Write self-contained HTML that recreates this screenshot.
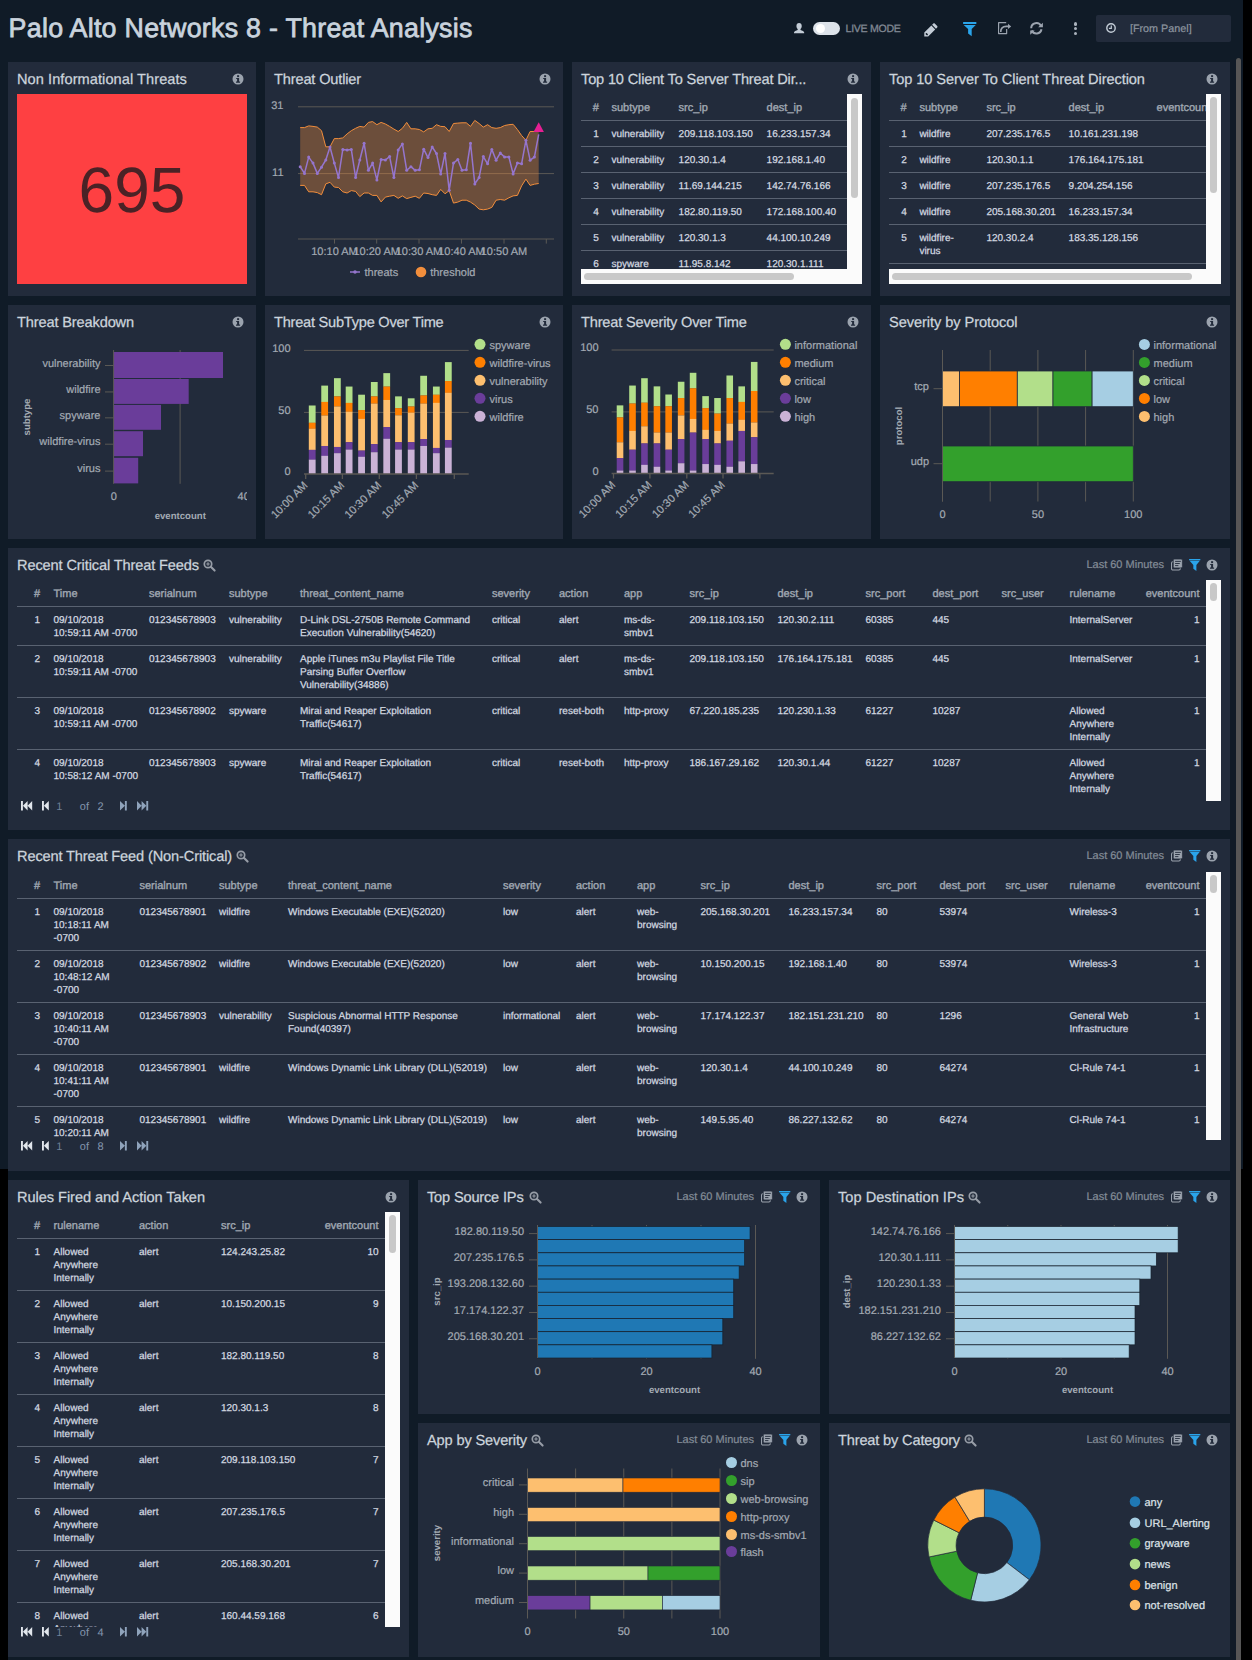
<!DOCTYPE html>
<html lang="en"><head><meta charset="utf-8"><title>Palo Alto Networks 8 - Threat Analysis</title>
<style>
*{margin:0;padding:0;box-sizing:border-box}
html,body{width:1252px;height:1660px;overflow:hidden;background:#101b27}
body{position:relative;text-rendering:geometricPrecision;font-family:"Liberation Sans",sans-serif;color:#d3d9e0}
.p{position:absolute;background:#222b3b}
.t{position:absolute;white-space:nowrap}
.ic,.ch{position:absolute;overflow:visible}
.title{font-size:14.6px;color:#cdd5dd;-webkit-text-stroke:0.25px #cdd5dd}
.h1{font-size:26.8px;letter-spacing:0.27px;color:#c9d3dd;-webkit-text-stroke:0.75px #c9d3dd}
.rng{font-size:11px;color:#838c97;-webkit-text-stroke:0.2px #838c97}
.tb{position:absolute;overflow:hidden}
.tb div{position:absolute;white-space:nowrap}
.th{font-size:11px;color:#a1a9b3;-webkit-text-stroke:0.35px #a1a9b3}
.td{font-size:10px;line-height:13px;color:#d3d9e0;-webkit-text-stroke:0.25px #d3d9e0}
.hl{left:0;right:0;height:1px;background:#596271}
.sb{position:absolute;background:#fbfbfb}
.thumb{position:absolute;background:#c8c8c8;border-radius:4px}
.pg{font-size:11px;color:#8295ad}
svg text{font-family:"Liberation Sans",sans-serif;text-rendering:geometricPrecision}
.ax{font-size:11px;fill:#a3aab3;stroke:#a3aab3;stroke-width:0.2px}
.axb{font-size:9.6px;font-weight:bold;fill:#a3aab3}
.lg{font-size:11px;fill:#a3a9b2;stroke:#a3a9b2;stroke-width:0.2px}
.lgw{font-size:11px;fill:#dfe3e8;stroke:#dfe3e8;stroke-width:0.2px}
</style></head>
<body>
<div style="left:1243px;top:0px;width:9px;height:1660px;position:absolute;background:#000"></div>
<div style="left:1241px;top:1169px;width:2px;height:491px;position:absolute;background:#000"></div>
<div style="left:0px;top:1169px;width:8px;height:491px;position:absolute;background:#000"></div>
<div style="left:1236px;top:58px;width:5.2px;height:1602px;position:absolute;background:#565656;border-radius:3px 3px 0 0"></div>
<div class="t h1" style="left:8.6px;top:18.5px;height:20px;line-height:20px;height:40px;line-height:40px;top:7.6px;">Palo Alto Networks 8 - Threat Analysis</div>
<svg class="ic" style="left:794.4px;top:22.9px" width="10.2" height="10.2" preserveAspectRatio="none" viewBox="0 0 10.8 10.2"><path d="M5.4 0C7.2 0 8.2 1.3 8.2 3c0 1.3-.5 2.4-1.3 3.1v.9c1.7.5 3.9 1.300 3.900 2.400v.8H0v-.8c0-1.100 2.200-1.900 3.900-2.400v-.9C3.100 5.400 2.600 4.300 2.600 3 2.600 1.300 3.600 0 5.400 0z" fill="#c3ccd6"/></svg>
<div style="left:812.7px;top:21.6px;width:27.4px;height:13.4px;position:absolute;background:#dde3ea;border-radius:7px"></div>
<div style="left:815.9px;top:24px;width:9px;height:9px;position:absolute;background:#fff;border-radius:5px"></div>
<div class="t" style="left:845.6px;top:19.3px;height:20px;line-height:20px;font-size:10.6px;letter-spacing:-0.3px;color:#808893;-webkit-text-stroke:0.3px #808893;">LIVE MODE</div>
<svg class="ic" style="left:923.6px;top:22.8px" width="14" height="14" viewBox="-0.5 0 14.5 14"><path d="M10.600.3l2.600 2.600c.4.4.4 1 0 1.400l-1.300 1.300-4-4L9.200.3c.4-.4 1-.4 1.400 0zM7.100 2.400l4 4-7.300 7.300H-.2v-4zM1.200 11.300l1.200 1.200 1-.1.100-1-1.200-1.200-1 .1z" fill="#c3ccd6" fill-rule="evenodd"/></svg>
<svg class="ic" style="left:962.8px;top:22px" width="13.46" height="14.15" viewBox="0 0 11.6 12.2"><path d="M0.1 0h11.4v1.8H0.1z M0.6 2.55h10.4L7.5 6.1v6.1L4.4 10V6.1z" fill="#2aa4ea"/></svg>
<svg class="ic" style="left:997.9px;top:21.9px" width="14.4" height="12.4" viewBox="0 0 14.4 12.4"><path d="M8.65 7.1V11.6H0.6V0.7H8.2" fill="none" stroke="#9ba3ae" stroke-width="1.2" stroke-linejoin="round"/><path d="M2.7 9.9C2.7 6.4 4.6 4.4 8.2 4.4H10.2" fill="none" stroke="#101b27" stroke-width="3.2"/><path d="M10 0.9L14.2 4.4 10 7.9z" fill="#101b27"/><path d="M2.7 9.9C2.7 6.4 4.6 4.4 8.2 4.4H10.2" fill="none" stroke="#9ba3ae" stroke-width="1.7"/><path d="M10 1.7L13.2 4.4 10 7.1z" fill="#9ba3ae"/></svg>
<svg class="ic" style="left:1030.3px;top:22.2px" width="13.6" height="13" viewBox="0 0 13.6 13"><path d="M1.2 6.3A5.2 5.2 0 0 1 11.1 4.1" fill="none" stroke="#9ba3ae" stroke-width="2"/><path d="M11.5 7.2A5.2 5.2 0 0 1 1.7 8.5" fill="none" stroke="#9ba3ae" stroke-width="2"/><path d="M12.9 0.7V5.3H8.1zM0.2 12.7V8.4H4.7z" fill="#9ba3ae"/></svg>
<div style="left:1073.9px;top:22.2px;width:3.4px;height:3.4px;position:absolute;background:#aab2bc;border-radius:2px"></div>
<div style="left:1073.9px;top:26.900000000000002px;width:3.4px;height:3.4px;position:absolute;background:#aab2bc;border-radius:2px"></div>
<div style="left:1073.9px;top:31.599999999999998px;width:3.4px;height:3.4px;position:absolute;background:#aab2bc;border-radius:2px"></div>
<div style="left:1096px;top:15px;width:135px;height:27px;position:absolute;background:#222b3b;border-radius:2px"></div>
<svg class="ic" style="left:1104.8px;top:22px" width="12" height="12" viewBox="0 0 12 12"><circle cx="6" cy="6" r="4.2" fill="none" stroke="#c3ccd6" stroke-width="1.4"/><path d="M6.3 3.4v2.900H3.900" fill="none" stroke="#c3ccd6" stroke-width="1.2"/></svg>
<div class="t" style="left:1129.9px;top:19px;height:20px;line-height:20px;font-size:10.8px;color:#8d959f;-webkit-text-stroke:0.2px #8d959f;">[From Panel]</div>
<div class="p" style="left:8px;top:62px;width:248px;height:234px;"></div>
<div class="p" style="left:265px;top:62px;width:298px;height:234px;"></div>
<div class="p" style="left:572px;top:62px;width:299px;height:234px;"></div>
<div class="p" style="left:880px;top:62px;width:350px;height:234px;"></div>
<div class="p" style="left:8px;top:305px;width:248px;height:234px;"></div>
<div class="p" style="left:265px;top:305px;width:298px;height:234px;"></div>
<div class="p" style="left:572px;top:305px;width:299px;height:234px;"></div>
<div class="p" style="left:880px;top:305px;width:350px;height:234px;"></div>
<div class="p" style="left:8px;top:548px;width:1222px;height:282px;"></div>
<div class="p" style="left:8px;top:839px;width:1222px;height:332px;"></div>
<div class="p" style="left:8px;top:1180px;width:401px;height:477px;"></div>
<div class="p" style="left:418px;top:1180px;width:402px;height:234px;"></div>
<div class="p" style="left:829px;top:1180px;width:401px;height:234px;"></div>
<div class="p" style="left:418px;top:1423px;width:402px;height:234px;"></div>
<div class="p" style="left:829px;top:1423px;width:401px;height:234px;"></div>
<div class="t title" style="left:17px;top:69.5px;height:20px;line-height:20px;letter-spacing:0.061px;">Non Informational Threats</div><svg class="ic" style="left:230.8px;top:71.5px" width="14" height="14" viewBox="0 0 14 14"><circle cx="7" cy="7" r="5.5" fill="#9ba3ae"/><rect x="6.1" y="3.2" width="2" height="1.9" fill="#222b3b"/><path d="M5.2 5.9h2.9v3.6h1v1.2H5v-1.2h1.1V7.1H5.2z" fill="#222b3b"/></svg>
<div class="t title" style="left:274px;top:69.5px;height:20px;line-height:20px;letter-spacing:-0.158px;">Threat Outlier</div><svg class="ic" style="left:537.8px;top:71.5px" width="14" height="14" viewBox="0 0 14 14"><circle cx="7" cy="7" r="5.5" fill="#9ba3ae"/><rect x="6.1" y="3.2" width="2" height="1.9" fill="#222b3b"/><path d="M5.2 5.9h2.9v3.6h1v1.2H5v-1.2h1.1V7.1H5.2z" fill="#222b3b"/></svg>
<div class="t title" style="left:581px;top:69.5px;height:20px;line-height:20px;letter-spacing:-0.169px;">Top 10 Client To Server Threat Dir...</div><svg class="ic" style="left:845.8px;top:71.5px" width="14" height="14" viewBox="0 0 14 14"><circle cx="7" cy="7" r="5.5" fill="#9ba3ae"/><rect x="6.1" y="3.2" width="2" height="1.9" fill="#222b3b"/><path d="M5.2 5.9h2.9v3.6h1v1.2H5v-1.2h1.1V7.1H5.2z" fill="#222b3b"/></svg>
<div class="t title" style="left:889px;top:69.5px;height:20px;line-height:20px;letter-spacing:-0.078px;">Top 10 Server To Client Threat Direction</div><svg class="ic" style="left:1204.8px;top:71.5px" width="14" height="14" viewBox="0 0 14 14"><circle cx="7" cy="7" r="5.5" fill="#9ba3ae"/><rect x="6.1" y="3.2" width="2" height="1.9" fill="#222b3b"/><path d="M5.2 5.9h2.9v3.6h1v1.2H5v-1.2h1.1V7.1H5.2z" fill="#222b3b"/></svg>
<div class="t title" style="left:17px;top:312.5px;height:20px;line-height:20px;letter-spacing:-0.141px;">Threat Breakdown</div><svg class="ic" style="left:230.8px;top:314.5px" width="14" height="14" viewBox="0 0 14 14"><circle cx="7" cy="7" r="5.5" fill="#9ba3ae"/><rect x="6.1" y="3.2" width="2" height="1.9" fill="#222b3b"/><path d="M5.2 5.9h2.9v3.6h1v1.2H5v-1.2h1.1V7.1H5.2z" fill="#222b3b"/></svg>
<div class="t title" style="left:274px;top:312.5px;height:20px;line-height:20px;letter-spacing:-0.238px;">Threat SubType Over Time</div><svg class="ic" style="left:537.8px;top:314.5px" width="14" height="14" viewBox="0 0 14 14"><circle cx="7" cy="7" r="5.5" fill="#9ba3ae"/><rect x="6.1" y="3.2" width="2" height="1.9" fill="#222b3b"/><path d="M5.2 5.9h2.9v3.6h1v1.2H5v-1.2h1.1V7.1H5.2z" fill="#222b3b"/></svg>
<div class="t title" style="left:581px;top:312.5px;height:20px;line-height:20px;letter-spacing:-0.185px;">Threat Severity Over Time</div><svg class="ic" style="left:845.8px;top:314.5px" width="14" height="14" viewBox="0 0 14 14"><circle cx="7" cy="7" r="5.5" fill="#9ba3ae"/><rect x="6.1" y="3.2" width="2" height="1.9" fill="#222b3b"/><path d="M5.2 5.9h2.9v3.6h1v1.2H5v-1.2h1.1V7.1H5.2z" fill="#222b3b"/></svg>
<div class="t title" style="left:889px;top:312.5px;height:20px;line-height:20px;letter-spacing:-0.064px;">Severity by Protocol</div><svg class="ic" style="left:1204.8px;top:314.5px" width="14" height="14" viewBox="0 0 14 14"><circle cx="7" cy="7" r="5.5" fill="#9ba3ae"/><rect x="6.1" y="3.2" width="2" height="1.9" fill="#222b3b"/><path d="M5.2 5.9h2.9v3.6h1v1.2H5v-1.2h1.1V7.1H5.2z" fill="#222b3b"/></svg>
<div class="t title" style="left:17px;top:555.5px;height:20px;line-height:20px;letter-spacing:-0.124px;">Recent Critical Threat Feeds</div><svg class="ic" style="left:201.6px;top:558.2px" width="15" height="15" viewBox="0 0 15 15"><circle cx="6" cy="6" r="3.7" fill="none" stroke="#979da7" stroke-width="1.7"/><path d="M8.8 8.8L12.6 12.6" stroke="#979da7" stroke-width="2.1" stroke-linecap="round"/><path d="M4.3 6h3.4M6 4.3v3.4" stroke="#979da7" stroke-width="1.1"/></svg><svg class="ic" style="left:1204.8px;top:557.5px" width="14" height="14" viewBox="0 0 14 14"><circle cx="7" cy="7" r="5.5" fill="#9ba3ae"/><rect x="6.1" y="3.2" width="2" height="1.9" fill="#222b3b"/><path d="M5.2 5.9h2.9v3.6h1v1.2H5v-1.2h1.1V7.1H5.2z" fill="#222b3b"/></svg><div class="t rng" style="left:1086.4px;top:555.4px;height:20px;line-height:20px;">Last 60 Minutes</div><svg class="ic" style="left:1170.7px;top:559px" width="12" height="11" viewBox="0 0 12 11"><rect x="0.55" y="2.75" width="8.7" height="8.2" rx="1.3" fill="none" stroke="#9ba3ae" stroke-width="1.05"/><rect x="2.3" y="0.1" width="9.1" height="8.8" rx="1.3" fill="#9ba3ae" stroke="#222b3b" stroke-width="0.7"/><path d="M4.1 2.4h5.7M4.1 4.5h4.7M4.1 6.6h3.3" stroke="#222b3b" stroke-width="0.9"/></svg><svg class="ic" style="left:1188.8px;top:559px" width="11.43" height="12.02" viewBox="0 0 11.6 12.2"><path d="M0.1 0h11.4v1.25H0.1z M0.6 1.8h10.4L7.5 6.1v6.1L4.4 10V6.1z" fill="#2aa4ea"/></svg>
<div class="t title" style="left:17px;top:846.5px;height:20px;line-height:20px;letter-spacing:-0.137px;">Recent Threat Feed (Non-Critical)</div><svg class="ic" style="left:234.8px;top:849.2px" width="15" height="15" viewBox="0 0 15 15"><circle cx="6" cy="6" r="3.7" fill="none" stroke="#979da7" stroke-width="1.7"/><path d="M8.8 8.8L12.6 12.6" stroke="#979da7" stroke-width="2.1" stroke-linecap="round"/><path d="M4.3 6h3.4M6 4.3v3.4" stroke="#979da7" stroke-width="1.1"/></svg><svg class="ic" style="left:1204.8px;top:848.5px" width="14" height="14" viewBox="0 0 14 14"><circle cx="7" cy="7" r="5.5" fill="#9ba3ae"/><rect x="6.1" y="3.2" width="2" height="1.9" fill="#222b3b"/><path d="M5.2 5.9h2.9v3.6h1v1.2H5v-1.2h1.1V7.1H5.2z" fill="#222b3b"/></svg><div class="t rng" style="left:1086.4px;top:846.4px;height:20px;line-height:20px;">Last 60 Minutes</div><svg class="ic" style="left:1170.7px;top:850px" width="12" height="11" viewBox="0 0 12 11"><rect x="0.55" y="2.75" width="8.7" height="8.2" rx="1.3" fill="none" stroke="#9ba3ae" stroke-width="1.05"/><rect x="2.3" y="0.1" width="9.1" height="8.8" rx="1.3" fill="#9ba3ae" stroke="#222b3b" stroke-width="0.7"/><path d="M4.1 2.4h5.7M4.1 4.5h4.7M4.1 6.6h3.3" stroke="#222b3b" stroke-width="0.9"/></svg><svg class="ic" style="left:1188.8px;top:850px" width="11.43" height="12.02" viewBox="0 0 11.6 12.2"><path d="M0.1 0h11.4v1.25H0.1z M0.6 1.8h10.4L7.5 6.1v6.1L4.4 10V6.1z" fill="#2aa4ea"/></svg>
<div class="t title" style="left:17px;top:1187.5px;height:20px;line-height:20px;letter-spacing:-0.056px;">Rules Fired and Action Taken</div><svg class="ic" style="left:383.8px;top:1189.5px" width="14" height="14" viewBox="0 0 14 14"><circle cx="7" cy="7" r="5.5" fill="#9ba3ae"/><rect x="6.1" y="3.2" width="2" height="1.9" fill="#222b3b"/><path d="M5.2 5.9h2.9v3.6h1v1.2H5v-1.2h1.1V7.1H5.2z" fill="#222b3b"/></svg>
<div class="t title" style="left:427px;top:1187.5px;height:20px;line-height:20px;letter-spacing:-0.176px;">Top Source IPs</div><svg class="ic" style="left:527.5px;top:1190.2px" width="15" height="15" viewBox="0 0 15 15"><circle cx="6" cy="6" r="3.7" fill="none" stroke="#979da7" stroke-width="1.7"/><path d="M8.8 8.8L12.6 12.6" stroke="#979da7" stroke-width="2.1" stroke-linecap="round"/><path d="M4.3 6h3.4M6 4.3v3.4" stroke="#979da7" stroke-width="1.1"/></svg><svg class="ic" style="left:794.8px;top:1189.5px" width="14" height="14" viewBox="0 0 14 14"><circle cx="7" cy="7" r="5.5" fill="#9ba3ae"/><rect x="6.1" y="3.2" width="2" height="1.9" fill="#222b3b"/><path d="M5.2 5.9h2.9v3.6h1v1.2H5v-1.2h1.1V7.1H5.2z" fill="#222b3b"/></svg><div class="t rng" style="left:676.4px;top:1187.4px;height:20px;line-height:20px;">Last 60 Minutes</div><svg class="ic" style="left:760.7px;top:1191px" width="12" height="11" viewBox="0 0 12 11"><rect x="0.55" y="2.75" width="8.7" height="8.2" rx="1.3" fill="none" stroke="#9ba3ae" stroke-width="1.05"/><rect x="2.3" y="0.1" width="9.1" height="8.8" rx="1.3" fill="#9ba3ae" stroke="#222b3b" stroke-width="0.7"/><path d="M4.1 2.4h5.7M4.1 4.5h4.7M4.1 6.6h3.3" stroke="#222b3b" stroke-width="0.9"/></svg><svg class="ic" style="left:778.8px;top:1191px" width="11.43" height="12.02" viewBox="0 0 11.6 12.2"><path d="M0.1 0h11.4v1.25H0.1z M0.6 1.8h10.4L7.5 6.1v6.1L4.4 10V6.1z" fill="#2aa4ea"/></svg>
<div class="t title" style="left:838px;top:1187.5px;height:20px;line-height:20px;letter-spacing:0.013px;">Top Destination IPs</div><svg class="ic" style="left:966.7px;top:1190.2px" width="15" height="15" viewBox="0 0 15 15"><circle cx="6" cy="6" r="3.7" fill="none" stroke="#979da7" stroke-width="1.7"/><path d="M8.8 8.8L12.6 12.6" stroke="#979da7" stroke-width="2.1" stroke-linecap="round"/><path d="M4.3 6h3.4M6 4.3v3.4" stroke="#979da7" stroke-width="1.1"/></svg><svg class="ic" style="left:1204.8px;top:1189.5px" width="14" height="14" viewBox="0 0 14 14"><circle cx="7" cy="7" r="5.5" fill="#9ba3ae"/><rect x="6.1" y="3.2" width="2" height="1.9" fill="#222b3b"/><path d="M5.2 5.9h2.9v3.6h1v1.2H5v-1.2h1.1V7.1H5.2z" fill="#222b3b"/></svg><div class="t rng" style="left:1086.4px;top:1187.4px;height:20px;line-height:20px;">Last 60 Minutes</div><svg class="ic" style="left:1170.7px;top:1191px" width="12" height="11" viewBox="0 0 12 11"><rect x="0.55" y="2.75" width="8.7" height="8.2" rx="1.3" fill="none" stroke="#9ba3ae" stroke-width="1.05"/><rect x="2.3" y="0.1" width="9.1" height="8.8" rx="1.3" fill="#9ba3ae" stroke="#222b3b" stroke-width="0.7"/><path d="M4.1 2.4h5.7M4.1 4.5h4.7M4.1 6.6h3.3" stroke="#222b3b" stroke-width="0.9"/></svg><svg class="ic" style="left:1188.8px;top:1191px" width="11.43" height="12.02" viewBox="0 0 11.6 12.2"><path d="M0.1 0h11.4v1.25H0.1z M0.6 1.8h10.4L7.5 6.1v6.1L4.4 10V6.1z" fill="#2aa4ea"/></svg>
<div class="t title" style="left:427px;top:1430.5px;height:20px;line-height:20px;letter-spacing:-0.148px;">App by Severity</div><svg class="ic" style="left:530px;top:1433.2px" width="15" height="15" viewBox="0 0 15 15"><circle cx="6" cy="6" r="3.7" fill="none" stroke="#979da7" stroke-width="1.7"/><path d="M8.8 8.8L12.6 12.6" stroke="#979da7" stroke-width="2.1" stroke-linecap="round"/><path d="M4.3 6h3.4M6 4.3v3.4" stroke="#979da7" stroke-width="1.1"/></svg><svg class="ic" style="left:794.8px;top:1432.5px" width="14" height="14" viewBox="0 0 14 14"><circle cx="7" cy="7" r="5.5" fill="#9ba3ae"/><rect x="6.1" y="3.2" width="2" height="1.9" fill="#222b3b"/><path d="M5.2 5.9h2.9v3.6h1v1.2H5v-1.2h1.1V7.1H5.2z" fill="#222b3b"/></svg><div class="t rng" style="left:676.4px;top:1430.4px;height:20px;line-height:20px;">Last 60 Minutes</div><svg class="ic" style="left:760.7px;top:1434px" width="12" height="11" viewBox="0 0 12 11"><rect x="0.55" y="2.75" width="8.7" height="8.2" rx="1.3" fill="none" stroke="#9ba3ae" stroke-width="1.05"/><rect x="2.3" y="0.1" width="9.1" height="8.8" rx="1.3" fill="#9ba3ae" stroke="#222b3b" stroke-width="0.7"/><path d="M4.1 2.4h5.7M4.1 4.5h4.7M4.1 6.6h3.3" stroke="#222b3b" stroke-width="0.9"/></svg><svg class="ic" style="left:778.8px;top:1434px" width="11.43" height="12.02" viewBox="0 0 11.6 12.2"><path d="M0.1 0h11.4v1.25H0.1z M0.6 1.8h10.4L7.5 6.1v6.1L4.4 10V6.1z" fill="#2aa4ea"/></svg>
<div class="t title" style="left:838px;top:1430.5px;height:20px;line-height:20px;letter-spacing:-0.162px;">Threat by Category</div><svg class="ic" style="left:962.7px;top:1433.2px" width="15" height="15" viewBox="0 0 15 15"><circle cx="6" cy="6" r="3.7" fill="none" stroke="#979da7" stroke-width="1.7"/><path d="M8.8 8.8L12.6 12.6" stroke="#979da7" stroke-width="2.1" stroke-linecap="round"/><path d="M4.3 6h3.4M6 4.3v3.4" stroke="#979da7" stroke-width="1.1"/></svg><svg class="ic" style="left:1204.8px;top:1432.5px" width="14" height="14" viewBox="0 0 14 14"><circle cx="7" cy="7" r="5.5" fill="#9ba3ae"/><rect x="6.1" y="3.2" width="2" height="1.9" fill="#222b3b"/><path d="M5.2 5.9h2.9v3.6h1v1.2H5v-1.2h1.1V7.1H5.2z" fill="#222b3b"/></svg><div class="t rng" style="left:1086.4px;top:1430.4px;height:20px;line-height:20px;">Last 60 Minutes</div><svg class="ic" style="left:1170.7px;top:1434px" width="12" height="11" viewBox="0 0 12 11"><rect x="0.55" y="2.75" width="8.7" height="8.2" rx="1.3" fill="none" stroke="#9ba3ae" stroke-width="1.05"/><rect x="2.3" y="0.1" width="9.1" height="8.8" rx="1.3" fill="#9ba3ae" stroke="#222b3b" stroke-width="0.7"/><path d="M4.1 2.4h5.7M4.1 4.5h4.7M4.1 6.6h3.3" stroke="#222b3b" stroke-width="0.9"/></svg><svg class="ic" style="left:1188.8px;top:1434px" width="11.43" height="12.02" viewBox="0 0 11.6 12.2"><path d="M0.1 0h11.4v1.25H0.1z M0.6 1.8h10.4L7.5 6.1v6.1L4.4 10V6.1z" fill="#2aa4ea"/></svg>
<div style="left:17px;top:94px;width:230px;height:190px;position:absolute;background:#fe4042"></div>
<div class="t" style="left:-18px;width:300px;text-align:center;top:180px;height:20px;line-height:20px;font-size:64px;color:#4a2226;height:80px;line-height:80px;top:149.6px;">695</div>
<div class="tb" style="left:581px;top:94px;width:266px;height:175px"><div class="th" style="right:248.2px;top:1px;height:26.5px;line-height:26.5px;text-align:right">#</div><div class="th" style="left:30.5px;top:1px;height:26.5px;line-height:26.5px">subtype</div><div class="th" style="left:97.6px;top:1px;height:26.5px;line-height:26.5px">src_ip</div><div class="th" style="left:185.6px;top:1px;height:26.5px;line-height:26.5px">dest_ip</div><div class="hl" style="top:26.0px"></div><div class="td" style="right:248.2px;top:33.8px;text-align:right">1</div><div class="td" style="left:30.5px;top:33.8px">vulnerability</div><div class="td" style="left:97.6px;top:33.8px">209.118.103.150</div><div class="td" style="left:185.6px;top:33.8px">16.233.157.34</div><div class="hl" style="top:52.0px"></div><div class="td" style="right:248.2px;top:59.8px;text-align:right">2</div><div class="td" style="left:30.5px;top:59.8px">vulnerability</div><div class="td" style="left:97.6px;top:59.8px">120.30.1.4</div><div class="td" style="left:185.6px;top:59.8px">192.168.1.40</div><div class="hl" style="top:78.0px"></div><div class="td" style="right:248.2px;top:85.8px;text-align:right">3</div><div class="td" style="left:30.5px;top:85.8px">vulnerability</div><div class="td" style="left:97.6px;top:85.8px">11.69.144.215</div><div class="td" style="left:185.6px;top:85.8px">142.74.76.166</div><div class="hl" style="top:104.0px"></div><div class="td" style="right:248.2px;top:111.8px;text-align:right">4</div><div class="td" style="left:30.5px;top:111.8px">vulnerability</div><div class="td" style="left:97.6px;top:111.8px">182.80.119.50</div><div class="td" style="left:185.6px;top:111.8px">172.168.100.40</div><div class="hl" style="top:130.0px"></div><div class="td" style="right:248.2px;top:137.8px;text-align:right">5</div><div class="td" style="left:30.5px;top:137.8px">vulnerability</div><div class="td" style="left:97.6px;top:137.8px">120.30.1.3</div><div class="td" style="left:185.6px;top:137.8px">44.100.10.249</div><div class="hl" style="top:156.0px"></div><div class="td" style="right:248.2px;top:163.8px;text-align:right">6</div><div class="td" style="left:30.5px;top:163.8px">spyware</div><div class="td" style="left:97.6px;top:163.8px">11.95.8.142</div><div class="td" style="left:185.6px;top:163.8px">120.30.1.111</div><div class="hl" style="top:182.0px"></div></div>
<div class="sb" style="left:847px;top:94px;width:15px;height:190px"></div>
<div class="thumb" style="left:850.9px;top:97.5px;width:7.6px;height:100.5px"></div>
<div class="sb" style="left:581px;top:269px;width:281px;height:15px"></div>
<div class="thumb" style="left:584px;top:272.9px;width:209.70000000000005px;height:7.6px"></div>
<div class="tb" style="left:889px;top:94px;width:317px;height:175px"><div class="th" style="right:299.3px;top:1px;height:26.5px;line-height:26.5px;text-align:right">#</div><div class="th" style="left:30.4px;top:1px;height:26.5px;line-height:26.5px">subtype</div><div class="th" style="left:97.4px;top:1px;height:26.5px;line-height:26.5px">src_ip</div><div class="th" style="left:179.6px;top:1px;height:26.5px;line-height:26.5px">dest_ip</div><div class="th" style="left:267.6px;top:1px;height:26.5px;line-height:26.5px">eventcount</div><div class="hl" style="top:26.0px"></div><div class="td" style="right:299.3px;top:33.8px;text-align:right">1</div><div class="td" style="left:30.4px;top:33.8px">wildfire</div><div class="td" style="left:97.4px;top:33.8px">207.235.176.5</div><div class="td" style="left:179.6px;top:33.8px">10.161.231.198</div><div class="hl" style="top:52.0px"></div><div class="td" style="right:299.3px;top:59.8px;text-align:right">2</div><div class="td" style="left:30.4px;top:59.8px">wildfire</div><div class="td" style="left:97.4px;top:59.8px">120.30.1.1</div><div class="td" style="left:179.6px;top:59.8px">176.164.175.181</div><div class="hl" style="top:78.0px"></div><div class="td" style="right:299.3px;top:85.8px;text-align:right">3</div><div class="td" style="left:30.4px;top:85.8px">wildfire</div><div class="td" style="left:97.4px;top:85.8px">207.235.176.5</div><div class="td" style="left:179.6px;top:85.8px">9.204.254.156</div><div class="hl" style="top:104.0px"></div><div class="td" style="right:299.3px;top:111.8px;text-align:right">4</div><div class="td" style="left:30.4px;top:111.8px">wildfire</div><div class="td" style="left:97.4px;top:111.8px">205.168.30.201</div><div class="td" style="left:179.6px;top:111.8px">16.233.157.34</div><div class="hl" style="top:130.0px"></div><div class="td" style="right:299.3px;top:137.8px;text-align:right">5</div><div class="td" style="left:30.4px;top:137.8px">wildfire-<br>virus</div><div class="td" style="left:97.4px;top:137.8px">120.30.2.4</div><div class="td" style="left:179.6px;top:137.8px">183.35.128.156</div><div class="hl" style="top:169.0px"></div></div>
<div class="sb" style="left:1206px;top:94px;width:15px;height:190px"></div>
<div class="thumb" style="left:1209.9px;top:97px;width:7.6px;height:95.80000000000001px"></div>
<div class="sb" style="left:889px;top:269px;width:332px;height:15px"></div>
<div class="thumb" style="left:892px;top:272.9px;width:300px;height:7.6px"></div>
<div class="tb" style="left:17px;top:580px;width:1189px;height:221px"><div class="th" style="right:1166px;top:1px;height:26.5px;line-height:26.5px;text-align:right">#</div><div class="th" style="left:36.5px;top:1px;height:26.5px;line-height:26.5px">Time</div><div class="th" style="left:132px;top:1px;height:26.5px;line-height:26.5px">serialnum</div><div class="th" style="left:212px;top:1px;height:26.5px;line-height:26.5px">subtype</div><div class="th" style="left:283px;top:1px;height:26.5px;line-height:26.5px">threat_content_name</div><div class="th" style="left:475px;top:1px;height:26.5px;line-height:26.5px">severity</div><div class="th" style="left:542px;top:1px;height:26.5px;line-height:26.5px">action</div><div class="th" style="left:607px;top:1px;height:26.5px;line-height:26.5px">app</div><div class="th" style="left:672.5px;top:1px;height:26.5px;line-height:26.5px">src_ip</div><div class="th" style="left:760.5px;top:1px;height:26.5px;line-height:26.5px">dest_ip</div><div class="th" style="left:848.5px;top:1px;height:26.5px;line-height:26.5px">src_port</div><div class="th" style="left:915.5px;top:1px;height:26.5px;line-height:26.5px">dest_port</div><div class="th" style="left:984.5px;top:1px;height:26.5px;line-height:26.5px">src_user</div><div class="th" style="left:1052.5px;top:1px;height:26.5px;line-height:26.5px">rulename</div><div class="th" style="right:6.5px;top:1px;height:26.5px;line-height:26.5px;text-align:right">eventcount</div><div class="hl" style="top:26.0px"></div><div class="td" style="right:1166px;top:33.8px;text-align:right">1</div><div class="td" style="left:36.5px;top:33.8px">09/10/2018<br>10:59:11 AM -0700</div><div class="td" style="left:132px;top:33.8px">012345678903</div><div class="td" style="left:212px;top:33.8px">vulnerability</div><div class="td" style="left:283px;top:33.8px">D-Link DSL-2750B Remote Command<br>Execution Vulnerability(54620)</div><div class="td" style="left:475px;top:33.8px">critical</div><div class="td" style="left:542px;top:33.8px">alert</div><div class="td" style="left:607px;top:33.8px">ms-ds-<br>smbv1</div><div class="td" style="left:672.5px;top:33.8px">209.118.103.150</div><div class="td" style="left:760.5px;top:33.8px">120.30.2.111</div><div class="td" style="left:848.5px;top:33.8px">60385</div><div class="td" style="left:915.5px;top:33.8px">445</div><div class="td" style="left:1052.5px;top:33.8px">InternalServer</div><div class="td" style="right:6.5px;top:33.8px;text-align:right">1</div><div class="hl" style="top:65.0px"></div><div class="td" style="right:1166px;top:72.8px;text-align:right">2</div><div class="td" style="left:36.5px;top:72.8px">09/10/2018<br>10:59:11 AM -0700</div><div class="td" style="left:132px;top:72.8px">012345678903</div><div class="td" style="left:212px;top:72.8px">vulnerability</div><div class="td" style="left:283px;top:72.8px">Apple iTunes m3u Playlist File Title<br>Parsing Buffer Overflow<br>Vulnerability(34886)</div><div class="td" style="left:475px;top:72.8px">critical</div><div class="td" style="left:542px;top:72.8px">alert</div><div class="td" style="left:607px;top:72.8px">ms-ds-<br>smbv1</div><div class="td" style="left:672.5px;top:72.8px">209.118.103.150</div><div class="td" style="left:760.5px;top:72.8px">176.164.175.181</div><div class="td" style="left:848.5px;top:72.8px">60385</div><div class="td" style="left:915.5px;top:72.8px">445</div><div class="td" style="left:1052.5px;top:72.8px">InternalServer</div><div class="td" style="right:6.5px;top:72.8px;text-align:right">1</div><div class="hl" style="top:117.0px"></div><div class="td" style="right:1166px;top:124.8px;text-align:right">3</div><div class="td" style="left:36.5px;top:124.8px">09/10/2018<br>10:59:11 AM -0700</div><div class="td" style="left:132px;top:124.8px">012345678902</div><div class="td" style="left:212px;top:124.8px">spyware</div><div class="td" style="left:283px;top:124.8px">Mirai and Reaper Exploitation<br>Traffic(54617)</div><div class="td" style="left:475px;top:124.8px">critical</div><div class="td" style="left:542px;top:124.8px">reset-both</div><div class="td" style="left:607px;top:124.8px">http-proxy</div><div class="td" style="left:672.5px;top:124.8px">67.220.185.235</div><div class="td" style="left:760.5px;top:124.8px">120.230.1.33</div><div class="td" style="left:848.5px;top:124.8px">61227</div><div class="td" style="left:915.5px;top:124.8px">10287</div><div class="td" style="left:1052.5px;top:124.8px">Allowed<br>Anywhere<br>Internally</div><div class="td" style="right:6.5px;top:124.8px;text-align:right">1</div><div class="hl" style="top:169.0px"></div><div class="td" style="right:1166px;top:176.8px;text-align:right">4</div><div class="td" style="left:36.5px;top:176.8px">09/10/2018<br>10:58:12 AM -0700</div><div class="td" style="left:132px;top:176.8px">012345678903</div><div class="td" style="left:212px;top:176.8px">spyware</div><div class="td" style="left:283px;top:176.8px">Mirai and Reaper Exploitation<br>Traffic(54617)</div><div class="td" style="left:475px;top:176.8px">critical</div><div class="td" style="left:542px;top:176.8px">reset-both</div><div class="td" style="left:607px;top:176.8px">http-proxy</div><div class="td" style="left:672.5px;top:176.8px">186.167.29.162</div><div class="td" style="left:760.5px;top:176.8px">120.30.1.44</div><div class="td" style="left:848.5px;top:176.8px">61227</div><div class="td" style="left:915.5px;top:176.8px">10287</div><div class="td" style="left:1052.5px;top:176.8px">Allowed<br>Anywhere<br>Internally</div><div class="td" style="right:6.5px;top:176.8px;text-align:right">1</div><div class="hl" style="top:221.0px"></div></div>
<div class="sb" style="left:1206px;top:580px;width:15px;height:221px"></div>
<div class="thumb" style="left:1209.9px;top:583px;width:7.6px;height:18px"></div>
<svg class="ic" style="left:20.8px;top:801.3px" width="11.2" height="9.4" viewBox="0 0 11.2 9.4"><path d="M0 0h1.9v9.4H0zM6.6 0v9.4L1.9 4.7zM11.2 0v9.4L6.6 4.7z" fill="#e1e6ec"/></svg><svg class="ic" style="left:42.1px;top:801.3px" width="6.8" height="9.4" viewBox="0 0 6.8 9.4"><path d="M0 0h1.9v9.4H0zM6.8 0v9.4L1.9 4.7z" fill="#e1e6ec"/></svg><svg class="ic" style="left:119.9px;top:801.3px" width="6.8" height="9.4" viewBox="0 0 6.8 9.4"><path d="M4.9 0h1.9v9.4H4.9zM0 0v9.4L4.9 4.7z" fill="#8fa3bb"/></svg><svg class="ic" style="left:137px;top:801.3px" width="11.2" height="9.4" viewBox="0 0 11.2 9.4"><path d="M9.3 0h1.9v9.4H9.3zM0 0v9.4L4.6 4.7zM4.6 0v9.4L9.3 4.7z" fill="#8fa3bb"/></svg>
<div class="t pg" style="left:56.3px;top:797.3px;height:20px;line-height:20px;color:#708299;">1</div>
<div class="t pg" style="left:79.8px;top:797.3px;height:20px;line-height:20px;">of</div>
<div class="t pg" style="left:97.6px;top:797.3px;height:20px;line-height:20px;">2</div>
<div class="tb" style="left:17px;top:872px;width:1189px;height:268px"><div class="th" style="right:1166px;top:1px;height:26.5px;line-height:26.5px;text-align:right">#</div><div class="th" style="left:36.5px;top:1px;height:26.5px;line-height:26.5px">Time</div><div class="th" style="left:122.5px;top:1px;height:26.5px;line-height:26.5px">serialnum</div><div class="th" style="left:202px;top:1px;height:26.5px;line-height:26.5px">subtype</div><div class="th" style="left:271px;top:1px;height:26.5px;line-height:26.5px">threat_content_name</div><div class="th" style="left:486px;top:1px;height:26.5px;line-height:26.5px">severity</div><div class="th" style="left:559px;top:1px;height:26.5px;line-height:26.5px">action</div><div class="th" style="left:620px;top:1px;height:26.5px;line-height:26.5px">app</div><div class="th" style="left:683.5px;top:1px;height:26.5px;line-height:26.5px">src_ip</div><div class="th" style="left:771.5px;top:1px;height:26.5px;line-height:26.5px">dest_ip</div><div class="th" style="left:859.5px;top:1px;height:26.5px;line-height:26.5px">src_port</div><div class="th" style="left:922.5px;top:1px;height:26.5px;line-height:26.5px">dest_port</div><div class="th" style="left:988.5px;top:1px;height:26.5px;line-height:26.5px">src_user</div><div class="th" style="left:1052.5px;top:1px;height:26.5px;line-height:26.5px">rulename</div><div class="th" style="right:6.5px;top:1px;height:26.5px;line-height:26.5px;text-align:right">eventcount</div><div class="hl" style="top:26.0px"></div><div class="td" style="right:1166px;top:33.8px;text-align:right">1</div><div class="td" style="left:36.5px;top:33.8px">09/10/2018<br>10:18:11 AM<br>-0700</div><div class="td" style="left:122.5px;top:33.8px">012345678901</div><div class="td" style="left:202px;top:33.8px">wildfire</div><div class="td" style="left:271px;top:33.8px">Windows Executable (EXE)(52020)</div><div class="td" style="left:486px;top:33.8px">low</div><div class="td" style="left:559px;top:33.8px">alert</div><div class="td" style="left:620px;top:33.8px">web-<br>browsing</div><div class="td" style="left:683.5px;top:33.8px">205.168.30.201</div><div class="td" style="left:771.5px;top:33.8px">16.233.157.34</div><div class="td" style="left:859.5px;top:33.8px">80</div><div class="td" style="left:922.5px;top:33.8px">53974</div><div class="td" style="left:1052.5px;top:33.8px">Wireless-3</div><div class="td" style="right:6.5px;top:33.8px;text-align:right">1</div><div class="hl" style="top:78.0px"></div><div class="td" style="right:1166px;top:85.8px;text-align:right">2</div><div class="td" style="left:36.5px;top:85.8px">09/10/2018<br>10:48:12 AM<br>-0700</div><div class="td" style="left:122.5px;top:85.8px">012345678902</div><div class="td" style="left:202px;top:85.8px">wildfire</div><div class="td" style="left:271px;top:85.8px">Windows Executable (EXE)(52020)</div><div class="td" style="left:486px;top:85.8px">low</div><div class="td" style="left:559px;top:85.8px">alert</div><div class="td" style="left:620px;top:85.8px">web-<br>browsing</div><div class="td" style="left:683.5px;top:85.8px">10.150.200.15</div><div class="td" style="left:771.5px;top:85.8px">192.168.1.40</div><div class="td" style="left:859.5px;top:85.8px">80</div><div class="td" style="left:922.5px;top:85.8px">53974</div><div class="td" style="left:1052.5px;top:85.8px">Wireless-3</div><div class="td" style="right:6.5px;top:85.8px;text-align:right">1</div><div class="hl" style="top:130.0px"></div><div class="td" style="right:1166px;top:137.8px;text-align:right">3</div><div class="td" style="left:36.5px;top:137.8px">09/10/2018<br>10:40:11 AM<br>-0700</div><div class="td" style="left:122.5px;top:137.8px">012345678903</div><div class="td" style="left:202px;top:137.8px">vulnerability</div><div class="td" style="left:271px;top:137.8px">Suspicious Abnormal HTTP Response<br>Found(40397)</div><div class="td" style="left:486px;top:137.8px">informational</div><div class="td" style="left:559px;top:137.8px">alert</div><div class="td" style="left:620px;top:137.8px">web-<br>browsing</div><div class="td" style="left:683.5px;top:137.8px">17.174.122.37</div><div class="td" style="left:771.5px;top:137.8px">182.151.231.210</div><div class="td" style="left:859.5px;top:137.8px">80</div><div class="td" style="left:922.5px;top:137.8px">1296</div><div class="td" style="left:1052.5px;top:137.8px">General Web<br>Infrastructure</div><div class="td" style="right:6.5px;top:137.8px;text-align:right">1</div><div class="hl" style="top:182.0px"></div><div class="td" style="right:1166px;top:189.8px;text-align:right">4</div><div class="td" style="left:36.5px;top:189.8px">09/10/2018<br>10:41:11 AM<br>-0700</div><div class="td" style="left:122.5px;top:189.8px">012345678901</div><div class="td" style="left:202px;top:189.8px">wildfire</div><div class="td" style="left:271px;top:189.8px">Windows Dynamic Link Library (DLL)(52019)</div><div class="td" style="left:486px;top:189.8px">low</div><div class="td" style="left:559px;top:189.8px">alert</div><div class="td" style="left:620px;top:189.8px">web-<br>browsing</div><div class="td" style="left:683.5px;top:189.8px">120.30.1.4</div><div class="td" style="left:771.5px;top:189.8px">44.100.10.249</div><div class="td" style="left:859.5px;top:189.8px">80</div><div class="td" style="left:922.5px;top:189.8px">64274</div><div class="td" style="left:1052.5px;top:189.8px">Cl-Rule 74-1</div><div class="td" style="right:6.5px;top:189.8px;text-align:right">1</div><div class="hl" style="top:234.0px"></div><div class="td" style="right:1166px;top:241.8px;text-align:right">5</div><div class="td" style="left:36.5px;top:241.8px">09/10/2018<br>10:20:11 AM<br>-0700</div><div class="td" style="left:122.5px;top:241.8px">012345678901</div><div class="td" style="left:202px;top:241.8px">wildfire</div><div class="td" style="left:271px;top:241.8px">Windows Dynamic Link Library (DLL)(52019)</div><div class="td" style="left:486px;top:241.8px">low</div><div class="td" style="left:559px;top:241.8px">alert</div><div class="td" style="left:620px;top:241.8px">web-<br>browsing</div><div class="td" style="left:683.5px;top:241.8px">149.5.95.40</div><div class="td" style="left:771.5px;top:241.8px">86.227.132.62</div><div class="td" style="left:859.5px;top:241.8px">80</div><div class="td" style="left:922.5px;top:241.8px">64274</div><div class="td" style="left:1052.5px;top:241.8px">Cl-Rule 74-1</div><div class="td" style="right:6.5px;top:241.8px;text-align:right">1</div><div class="hl" style="top:286.0px"></div></div>
<div class="sb" style="left:1206px;top:872px;width:15px;height:268px"></div>
<div class="thumb" style="left:1209.9px;top:875px;width:7.6px;height:17.5px"></div>
<svg class="ic" style="left:20.8px;top:1141.3px" width="11.2" height="9.4" viewBox="0 0 11.2 9.4"><path d="M0 0h1.9v9.4H0zM6.6 0v9.4L1.9 4.7zM11.2 0v9.4L6.6 4.7z" fill="#e1e6ec"/></svg><svg class="ic" style="left:42.1px;top:1141.3px" width="6.8" height="9.4" viewBox="0 0 6.8 9.4"><path d="M0 0h1.9v9.4H0zM6.8 0v9.4L1.9 4.7z" fill="#e1e6ec"/></svg><svg class="ic" style="left:119.9px;top:1141.3px" width="6.8" height="9.4" viewBox="0 0 6.8 9.4"><path d="M4.9 0h1.9v9.4H4.9zM0 0v9.4L4.9 4.7z" fill="#8fa3bb"/></svg><svg class="ic" style="left:137px;top:1141.3px" width="11.2" height="9.4" viewBox="0 0 11.2 9.4"><path d="M9.3 0h1.9v9.4H9.3zM0 0v9.4L4.6 4.7zM4.6 0v9.4L9.3 4.7z" fill="#8fa3bb"/></svg>
<div class="t pg" style="left:56.3px;top:1137.3px;height:20px;line-height:20px;color:#708299;">1</div>
<div class="t pg" style="left:79.8px;top:1137.3px;height:20px;line-height:20px;">of</div>
<div class="t pg" style="left:97.6px;top:1137.3px;height:20px;line-height:20px;">8</div>
<div class="tb" style="left:17px;top:1212px;width:368px;height:414.5px"><div class="th" style="right:345px;top:1px;height:26.5px;line-height:26.5px;text-align:right">#</div><div class="th" style="left:36.5px;top:1px;height:26.5px;line-height:26.5px">rulename</div><div class="th" style="left:122px;top:1px;height:26.5px;line-height:26.5px">action</div><div class="th" style="left:204px;top:1px;height:26.5px;line-height:26.5px">src_ip</div><div class="th" style="right:6.5px;top:1px;height:26.5px;line-height:26.5px;text-align:right">eventcount</div><div class="hl" style="top:26.0px"></div><div class="td" style="right:345px;top:33.8px;text-align:right">1</div><div class="td" style="left:36.5px;top:33.8px">Allowed<br>Anywhere<br>Internally</div><div class="td" style="left:122px;top:33.8px">alert</div><div class="td" style="left:204px;top:33.8px">124.243.25.82</div><div class="td" style="right:6.5px;top:33.8px;text-align:right">10</div><div class="hl" style="top:78.0px"></div><div class="td" style="right:345px;top:85.8px;text-align:right">2</div><div class="td" style="left:36.5px;top:85.8px">Allowed<br>Anywhere<br>Internally</div><div class="td" style="left:122px;top:85.8px">alert</div><div class="td" style="left:204px;top:85.8px">10.150.200.15</div><div class="td" style="right:6.5px;top:85.8px;text-align:right">9</div><div class="hl" style="top:130.0px"></div><div class="td" style="right:345px;top:137.8px;text-align:right">3</div><div class="td" style="left:36.5px;top:137.8px">Allowed<br>Anywhere<br>Internally</div><div class="td" style="left:122px;top:137.8px">alert</div><div class="td" style="left:204px;top:137.8px">182.80.119.50</div><div class="td" style="right:6.5px;top:137.8px;text-align:right">8</div><div class="hl" style="top:182.0px"></div><div class="td" style="right:345px;top:189.8px;text-align:right">4</div><div class="td" style="left:36.5px;top:189.8px">Allowed<br>Anywhere<br>Internally</div><div class="td" style="left:122px;top:189.8px">alert</div><div class="td" style="left:204px;top:189.8px">120.30.1.3</div><div class="td" style="right:6.5px;top:189.8px;text-align:right">8</div><div class="hl" style="top:234.0px"></div><div class="td" style="right:345px;top:241.8px;text-align:right">5</div><div class="td" style="left:36.5px;top:241.8px">Allowed<br>Anywhere<br>Internally</div><div class="td" style="left:122px;top:241.8px">alert</div><div class="td" style="left:204px;top:241.8px">209.118.103.150</div><div class="td" style="right:6.5px;top:241.8px;text-align:right">7</div><div class="hl" style="top:286.0px"></div><div class="td" style="right:345px;top:293.8px;text-align:right">6</div><div class="td" style="left:36.5px;top:293.8px">Allowed<br>Anywhere<br>Internally</div><div class="td" style="left:122px;top:293.8px">alert</div><div class="td" style="left:204px;top:293.8px">207.235.176.5</div><div class="td" style="right:6.5px;top:293.8px;text-align:right">7</div><div class="hl" style="top:338.0px"></div><div class="td" style="right:345px;top:345.8px;text-align:right">7</div><div class="td" style="left:36.5px;top:345.8px">Allowed<br>Anywhere<br>Internally</div><div class="td" style="left:122px;top:345.8px">alert</div><div class="td" style="left:204px;top:345.8px">205.168.30.201</div><div class="td" style="right:6.5px;top:345.8px;text-align:right">7</div><div class="hl" style="top:390.0px"></div><div class="td" style="right:345px;top:397.8px;text-align:right">8</div><div class="td" style="left:36.5px;top:397.8px">Allowed<br>Anywhere<br>Internally</div><div class="td" style="left:122px;top:397.8px">alert</div><div class="td" style="left:204px;top:397.8px">160.44.59.168</div><div class="td" style="right:6.5px;top:397.8px;text-align:right">6</div><div class="hl" style="top:442.0px"></div></div>
<div class="sb" style="left:385px;top:1212px;width:15px;height:414.5px"></div>
<div class="thumb" style="left:388.9px;top:1215px;width:7.6px;height:37.5px"></div>
<svg class="ic" style="left:20.8px;top:1627.3px" width="11.2" height="9.4" viewBox="0 0 11.2 9.4"><path d="M0 0h1.9v9.4H0zM6.6 0v9.4L1.9 4.7zM11.2 0v9.4L6.6 4.7z" fill="#e1e6ec"/></svg><svg class="ic" style="left:42.1px;top:1627.3px" width="6.8" height="9.4" viewBox="0 0 6.8 9.4"><path d="M0 0h1.9v9.4H0zM6.8 0v9.4L1.9 4.7z" fill="#e1e6ec"/></svg><svg class="ic" style="left:119.9px;top:1627.3px" width="6.8" height="9.4" viewBox="0 0 6.8 9.4"><path d="M4.9 0h1.9v9.4H4.9zM0 0v9.4L4.9 4.7z" fill="#8fa3bb"/></svg><svg class="ic" style="left:137px;top:1627.3px" width="11.2" height="9.4" viewBox="0 0 11.2 9.4"><path d="M9.3 0h1.9v9.4H9.3zM0 0v9.4L4.6 4.7zM4.6 0v9.4L9.3 4.7z" fill="#8fa3bb"/></svg>
<div class="t pg" style="left:56.3px;top:1623.3px;height:20px;line-height:20px;color:#708299;">1</div>
<div class="t pg" style="left:79.8px;top:1623.3px;height:20px;line-height:20px;">of</div>
<div class="t pg" style="left:97.6px;top:1623.3px;height:20px;line-height:20px;">4</div>
<svg class="ch" style="left:265px;top:94px" width="298" height="200" viewBox="265 94 298 200"><path d="M298 106.8L554 106.8" stroke="#5b5955" stroke-width="1" fill="none"/><path d="M298 173.6L554 173.6" stroke="#5b5955" stroke-width="1" fill="none"/><path d="M298 239L554 239" stroke="#5b5955" stroke-width="1" fill="none"/><path d="M334.5 239L334.5 243.6" stroke="#5b5955" stroke-width="1" fill="none"/><path d="M376.7 239L376.7 243.6" stroke="#5b5955" stroke-width="1" fill="none"/><path d="M419 239L419 243.6" stroke="#5b5955" stroke-width="1" fill="none"/><path d="M461.5 239L461.5 243.6" stroke="#5b5955" stroke-width="1" fill="none"/><path d="M504 239L504 243.6" stroke="#5b5955" stroke-width="1" fill="none"/><path d="M546.3 239L546.3 243.6" stroke="#5b5955" stroke-width="1" fill="none"/><polygon points="300.2,127.6 304.5,127.6 308.7,125.9 313.0,126.4 317.3,127.1 321.5,130.7 325.8,146.8 330.0,146.8 334.3,138.6 338.5,138.6 342.8,137.9 347.1,133.9 351.3,130.7 355.6,128.3 359.8,126.4 364.1,127.1 368.4,122.4 372.6,121.6 376.9,124.7 381.1,122.4 385.4,124.0 389.6,126.4 393.9,129.1 398.2,131.5 402.4,128.3 406.7,122.4 410.9,128.8 415.2,128.8 419.4,129.5 423.7,131.9 428.0,128.8 432.2,128.3 436.5,124.7 440.7,126.4 445.0,126.7 449.2,131.5 453.5,123.5 457.8,123.1 462.0,122.8 466.3,122.8 470.5,126.4 474.8,120.4 479.1,123.5 483.3,127.1 487.6,124.7 491.8,127.6 496.1,128.3 500.3,127.6 504.6,125.5 508.9,124.7 513.1,124.3 517.4,129.5 521.6,135.5 525.9,140.3 530.1,131.5 534.4,131.5 538.7,131.5 538.7,183.5 534.4,184.2 530.1,185.4 525.9,179.1 521.6,185.9 517.4,195.4 513.1,195.9 508.9,197.8 504.6,200.2 500.3,199.5 496.1,200.2 491.8,207.4 487.6,209.1 483.3,209.8 479.1,209.1 474.8,205.0 470.5,202.1 466.3,200.2 462.0,200.2 457.8,202.1 453.5,203.1 449.2,190.6 445.0,193.8 440.7,189.4 436.5,195.4 432.2,194.7 428.0,193.5 423.7,193.0 419.4,198.3 415.2,196.2 410.9,197.4 406.7,198.6 402.4,195.9 398.2,198.3 393.9,195.4 389.6,196.2 385.4,197.1 381.1,201.9 376.9,195.4 372.6,195.4 368.4,193.0 364.1,193.0 359.8,196.6 355.6,191.4 351.3,190.6 347.1,193.0 342.8,191.8 338.5,187.5 334.3,187.1 330.0,182.3 325.8,183.9 321.5,194.7 317.3,192.6 313.0,191.8 308.7,191.8 304.5,185.4 300.2,185.4" fill="#f28e3c" fill-opacity="0.36"/><polyline points="300.2,127.6 304.5,127.6 308.7,125.9 313.0,126.4 317.3,127.1 321.5,130.7 325.8,146.8 330.0,146.8 334.3,138.6 338.5,138.6 342.8,137.9 347.1,133.9 351.3,130.7 355.6,128.3 359.8,126.4 364.1,127.1 368.4,122.4 372.6,121.6 376.9,124.7 381.1,122.4 385.4,124.0 389.6,126.4 393.9,129.1 398.2,131.5 402.4,128.3 406.7,122.4 410.9,128.8 415.2,128.8 419.4,129.5 423.7,131.9 428.0,128.8 432.2,128.3 436.5,124.7 440.7,126.4 445.0,126.7 449.2,131.5 453.5,123.5 457.8,123.1 462.0,122.8 466.3,122.8 470.5,126.4 474.8,120.4 479.1,123.5 483.3,127.1 487.6,124.7 491.8,127.6 496.1,128.3 500.3,127.6 504.6,125.5 508.9,124.7 513.1,124.3 517.4,129.5 521.6,135.5 525.9,140.3 530.1,131.5 534.4,131.5 538.7,131.5" fill="none" stroke="#f28e3c" stroke-width="1"/><polyline points="538.7,183.5 534.4,184.2 530.1,185.4 525.9,179.1 521.6,185.9 517.4,195.4 513.1,195.9 508.9,197.8 504.6,200.2 500.3,199.5 496.1,200.2 491.8,207.4 487.6,209.1 483.3,209.8 479.1,209.1 474.8,205.0 470.5,202.1 466.3,200.2 462.0,200.2 457.8,202.1 453.5,203.1 449.2,190.6 445.0,193.8 440.7,189.4 436.5,195.4 432.2,194.7 428.0,193.5 423.7,193.0 419.4,198.3 415.2,196.2 410.9,197.4 406.7,198.6 402.4,195.9 398.2,198.3 393.9,195.4 389.6,196.2 385.4,197.1 381.1,201.9 376.9,195.4 372.6,195.4 368.4,193.0 364.1,193.0 359.8,196.6 355.6,191.4 351.3,190.6 347.1,193.0 342.8,191.8 338.5,187.5 334.3,187.1 330.0,182.3 325.8,183.9 321.5,194.7 317.3,192.6 313.0,191.8 308.7,191.8 304.5,185.4 300.2,185.4" fill="none" stroke="#f28e3c" stroke-width="1"/><polyline points="300.2,166.7 304.5,173.4 308.7,157.1 313.0,163.1 317.3,173.4 321.5,167.2 325.8,160.0 330.0,147.0 334.3,163.1 338.5,177.5 342.8,149.4 347.1,149.9 351.3,149.4 355.6,177.5 359.8,160.0 364.1,143.2 368.4,170.3 372.6,163.1 376.9,179.9 381.1,159.5 385.4,160.0 389.6,156.6 393.9,177.5 398.2,149.9 402.4,143.9 406.7,170.3 410.9,166.7 415.2,170.3 419.4,169.8 423.7,149.2 428.0,157.6 432.2,147.0 436.5,153.5 440.7,173.9 445.0,153.5 449.2,190.2 453.5,163.1 457.8,159.5 462.0,170.3 466.3,169.8 470.5,143.2 474.8,183.9 479.1,177.5 483.3,156.6 487.6,163.8 491.8,149.4 496.1,160.2 500.3,153.0 504.6,157.1 508.9,157.1 513.1,173.9 517.4,163.1 521.6,163.8 525.9,140.3 530.1,160.2 534.4,157.1 538.7,134.3" fill="none" stroke="#9575cd" stroke-width="1.5" stroke-linejoin="round"/><circle cx="300.2" cy="166.7" r="1.5" fill="#9575cd"/><circle cx="304.5" cy="173.4" r="1.5" fill="#9575cd"/><circle cx="308.7" cy="157.1" r="1.5" fill="#9575cd"/><circle cx="313.0" cy="163.1" r="1.5" fill="#9575cd"/><circle cx="317.3" cy="173.4" r="1.5" fill="#9575cd"/><circle cx="321.5" cy="167.2" r="1.5" fill="#9575cd"/><circle cx="325.8" cy="160.0" r="1.5" fill="#9575cd"/><circle cx="330.0" cy="147.0" r="1.5" fill="#9575cd"/><circle cx="334.3" cy="163.1" r="1.5" fill="#9575cd"/><circle cx="338.5" cy="177.5" r="1.5" fill="#9575cd"/><circle cx="342.8" cy="149.4" r="1.5" fill="#9575cd"/><circle cx="347.1" cy="149.9" r="1.5" fill="#9575cd"/><circle cx="351.3" cy="149.4" r="1.5" fill="#9575cd"/><circle cx="355.6" cy="177.5" r="1.5" fill="#9575cd"/><circle cx="359.8" cy="160.0" r="1.5" fill="#9575cd"/><circle cx="364.1" cy="143.2" r="1.5" fill="#9575cd"/><circle cx="368.4" cy="170.3" r="1.5" fill="#9575cd"/><circle cx="372.6" cy="163.1" r="1.5" fill="#9575cd"/><circle cx="376.9" cy="179.9" r="1.5" fill="#9575cd"/><circle cx="381.1" cy="159.5" r="1.5" fill="#9575cd"/><circle cx="385.4" cy="160.0" r="1.5" fill="#9575cd"/><circle cx="389.6" cy="156.6" r="1.5" fill="#9575cd"/><circle cx="393.9" cy="177.5" r="1.5" fill="#9575cd"/><circle cx="398.2" cy="149.9" r="1.5" fill="#9575cd"/><circle cx="402.4" cy="143.9" r="1.5" fill="#9575cd"/><circle cx="406.7" cy="170.3" r="1.5" fill="#9575cd"/><circle cx="410.9" cy="166.7" r="1.5" fill="#9575cd"/><circle cx="415.2" cy="170.3" r="1.5" fill="#9575cd"/><circle cx="419.4" cy="169.8" r="1.5" fill="#9575cd"/><circle cx="423.7" cy="149.2" r="1.5" fill="#9575cd"/><circle cx="428.0" cy="157.6" r="1.5" fill="#9575cd"/><circle cx="432.2" cy="147.0" r="1.5" fill="#9575cd"/><circle cx="436.5" cy="153.5" r="1.5" fill="#9575cd"/><circle cx="440.7" cy="173.9" r="1.5" fill="#9575cd"/><circle cx="445.0" cy="153.5" r="1.5" fill="#9575cd"/><circle cx="449.2" cy="190.2" r="1.5" fill="#9575cd"/><circle cx="453.5" cy="163.1" r="1.5" fill="#9575cd"/><circle cx="457.8" cy="159.5" r="1.5" fill="#9575cd"/><circle cx="462.0" cy="170.3" r="1.5" fill="#9575cd"/><circle cx="466.3" cy="169.8" r="1.5" fill="#9575cd"/><circle cx="470.5" cy="143.2" r="1.5" fill="#9575cd"/><circle cx="474.8" cy="183.9" r="1.5" fill="#9575cd"/><circle cx="479.1" cy="177.5" r="1.5" fill="#9575cd"/><circle cx="483.3" cy="156.6" r="1.5" fill="#9575cd"/><circle cx="487.6" cy="163.8" r="1.5" fill="#9575cd"/><circle cx="491.8" cy="149.4" r="1.5" fill="#9575cd"/><circle cx="496.1" cy="160.2" r="1.5" fill="#9575cd"/><circle cx="500.3" cy="153.0" r="1.5" fill="#9575cd"/><circle cx="504.6" cy="157.1" r="1.5" fill="#9575cd"/><circle cx="508.9" cy="157.1" r="1.5" fill="#9575cd"/><circle cx="513.1" cy="173.9" r="1.5" fill="#9575cd"/><circle cx="517.4" cy="163.1" r="1.5" fill="#9575cd"/><circle cx="521.6" cy="163.8" r="1.5" fill="#9575cd"/><circle cx="525.9" cy="140.3" r="1.5" fill="#9575cd"/><circle cx="530.1" cy="160.2" r="1.5" fill="#9575cd"/><circle cx="534.4" cy="157.1" r="1.5" fill="#9575cd"/><path d="M538.7 122.3l5.2 9.8h-10.4z" fill="#e61f93"/><text x="283.5" y="108.9" text-anchor="end" class="ax" >31</text><text x="283.5" y="175.5" text-anchor="end" class="ax" >11</text><text x="334.5" y="254.8" text-anchor="middle" class="ax" >10:10 AM</text><text x="376.7" y="254.8" text-anchor="middle" class="ax" >10:20 AM</text><text x="419" y="254.8" text-anchor="middle" class="ax" >10:30 AM</text><text x="461.5" y="254.8" text-anchor="middle" class="ax" >10:40 AM</text><text x="504" y="254.8" text-anchor="middle" class="ax" >10:50 AM</text><path d="M350 272L360 272" stroke="#9575cd" stroke-width="1.5" fill="none"/><circle cx="355" cy="272" r="1.8" fill="#9575cd"/><text x="364.5" y="275.9" text-anchor="start" class="lg" >threats</text><circle cx="421" cy="272" r="5.3" fill="#f28e3c"/><text x="430.2" y="275.9" text-anchor="start" class="lg" >threshold</text></svg>
<svg class="ch" style="overflow:hidden;left:8px;top:335px" width="238.6" height="200" viewBox="8 335 238.6 200"><path d="M180.1 350L180.1 483.8" stroke="#5b5955" stroke-width="1" fill="none"/><rect x="113.6" y="352" width="109.4" height="26" fill="#6a3d9a" /><path d="M105 365.5L113.6 365.5" stroke="#5b5955" stroke-width="1" fill="none"/><text x="100.5" y="366.8" text-anchor="end" class="ax" >vulnerability</text><rect x="113.6" y="379" width="75.1" height="24.9" fill="#6a3d9a" /><path d="M105 391.95L113.6 391.95" stroke="#5b5955" stroke-width="1" fill="none"/><text x="100.5" y="393.25" text-anchor="end" class="ax" >wildfire</text><rect x="113.6" y="404.9" width="47.4" height="24.9" fill="#6a3d9a" /><path d="M105 417.85L113.6 417.85" stroke="#5b5955" stroke-width="1" fill="none"/><text x="100.5" y="419.15" text-anchor="end" class="ax" >spyware</text><rect x="113.6" y="431.2" width="29.4" height="25.0" fill="#6a3d9a" /><path d="M105 444.2L113.6 444.2" stroke="#5b5955" stroke-width="1" fill="none"/><text x="100.5" y="445.5" text-anchor="end" class="ax" >wildfire-virus</text><rect x="113.6" y="457.8" width="24.6" height="25.6" fill="#6a3d9a" /><path d="M105 471.1L113.6 471.1" stroke="#5b5955" stroke-width="1" fill="none"/><text x="100.5" y="472.4" text-anchor="end" class="ax" >virus</text><path d="M113.6 350L113.6 483.8" stroke="#5b5955" stroke-width="1" fill="none"/><text x="113.8" y="499.7" text-anchor="middle" class="ax" >0</text><text x="237.6" y="499.7" text-anchor="start" class="ax" >40</text><text x="180.3" y="518.7" text-anchor="middle" class="axb" >eventcount</text><text x="0" y="0" text-anchor="middle" class="axb" transform="translate(30.3 417) rotate(-90)">subtype</text></svg>
<svg class="ch" style="left:265px;top:335px" width="300" height="200" viewBox="265 335 300 200"><path d="M304 350.4L468.7 350.4" stroke="#5b5955" stroke-width="1" fill="none"/><path d="M304 412.4L468.7 412.4" stroke="#5b5955" stroke-width="1" fill="none"/><rect x="308.81" y="405.49" width="6.8" height="17.4" fill="#b2df8a" /><rect x="308.81" y="422.74" width="6.8" height="6.14" fill="#ff7f00" /><rect x="308.81" y="428.73" width="6.8" height="21.24" fill="#fdbf6f" /><rect x="308.81" y="449.82" width="6.8" height="9.98" fill="#6a3d9a" /><rect x="308.81" y="459.64" width="6.8" height="14.29" fill="#cab2d6" /><rect x="321.27" y="385.6" width="6.8" height="16.45" fill="#b2df8a" /><rect x="321.27" y="401.89" width="6.8" height="13.81" fill="#ff7f00" /><rect x="321.27" y="415.55" width="6.8" height="30.58" fill="#fdbf6f" /><rect x="321.27" y="445.98" width="6.8" height="9.98" fill="#6a3d9a" /><rect x="321.27" y="455.81" width="6.8" height="18.12" fill="#cab2d6" /><rect x="333.97" y="378.17" width="6.8" height="18.36" fill="#b2df8a" /><rect x="333.97" y="396.38" width="6.8" height="10.21" fill="#ff7f00" /><rect x="333.97" y="406.44" width="6.8" height="40.65" fill="#fdbf6f" /><rect x="333.97" y="446.94" width="6.8" height="6.38" fill="#6a3d9a" /><rect x="333.97" y="453.17" width="6.8" height="20.76" fill="#cab2d6" /><rect x="345.71" y="386.55" width="6.8" height="16.45" fill="#b2df8a" /><rect x="345.71" y="402.85" width="6.8" height="9.02" fill="#ff7f00" /><rect x="345.71" y="411.72" width="6.8" height="30.58" fill="#fdbf6f" /><rect x="345.71" y="442.15" width="6.8" height="7.58" fill="#6a3d9a" /><rect x="345.71" y="449.58" width="6.8" height="24.35" fill="#cab2d6" /><rect x="358.17" y="394.7" width="6.8" height="15.49" fill="#b2df8a" /><rect x="358.17" y="410.04" width="6.8" height="9.02" fill="#ff7f00" /><rect x="358.17" y="418.9" width="6.8" height="31.78" fill="#fdbf6f" /><rect x="358.17" y="450.54" width="6.8" height="6.38" fill="#6a3d9a" /><rect x="358.17" y="456.77" width="6.8" height="17.16" fill="#cab2d6" /><rect x="370.87" y="382.0" width="6.8" height="14.53" fill="#b2df8a" /><rect x="370.87" y="396.38" width="6.8" height="7.34" fill="#ff7f00" /><rect x="370.87" y="403.57" width="6.8" height="40.65" fill="#fdbf6f" /><rect x="370.87" y="444.07" width="6.8" height="8.3" fill="#6a3d9a" /><rect x="370.87" y="452.21" width="6.8" height="21.72" fill="#cab2d6" /><rect x="383.33" y="373.13" width="6.8" height="13.57" fill="#b2df8a" /><rect x="383.33" y="386.55" width="6.8" height="13.57" fill="#ff7f00" /><rect x="383.33" y="399.97" width="6.8" height="27.23" fill="#fdbf6f" /><rect x="383.33" y="427.05" width="6.8" height="11.89" fill="#6a3d9a" /><rect x="383.33" y="438.79" width="6.8" height="35.14" fill="#cab2d6" /><rect x="395.08" y="396.38" width="6.8" height="11.89" fill="#b2df8a" /><rect x="395.08" y="408.12" width="6.8" height="7.34" fill="#ff7f00" /><rect x="395.08" y="415.31" width="6.8" height="26.99" fill="#fdbf6f" /><rect x="395.08" y="442.15" width="6.8" height="7.58" fill="#6a3d9a" /><rect x="395.08" y="449.58" width="6.8" height="24.35" fill="#cab2d6" /><rect x="407.78" y="398.3" width="6.8" height="8.3" fill="#b2df8a" /><rect x="407.78" y="406.44" width="6.8" height="6.38" fill="#ff7f00" /><rect x="407.78" y="412.67" width="6.8" height="29.63" fill="#fdbf6f" /><rect x="407.78" y="442.15" width="6.8" height="7.58" fill="#6a3d9a" /><rect x="407.78" y="449.58" width="6.8" height="24.35" fill="#cab2d6" /><rect x="420.24" y="375.77" width="6.8" height="19.8" fill="#b2df8a" /><rect x="420.24" y="395.42" width="6.8" height="8.3" fill="#ff7f00" /><rect x="420.24" y="403.57" width="6.8" height="35.62" fill="#fdbf6f" /><rect x="420.24" y="439.03" width="6.8" height="7.1" fill="#6a3d9a" /><rect x="420.24" y="445.98" width="6.8" height="27.95" fill="#cab2d6" /><rect x="432.94" y="386.55" width="6.8" height="8.3" fill="#b2df8a" /><rect x="432.94" y="394.7" width="6.8" height="8.3" fill="#ff7f00" /><rect x="432.94" y="402.85" width="6.8" height="45.2" fill="#fdbf6f" /><rect x="432.94" y="447.9" width="6.8" height="5.42" fill="#6a3d9a" /><rect x="432.94" y="453.17" width="6.8" height="20.76" fill="#cab2d6" /><rect x="444.92" y="362.11" width="6.8" height="19.08" fill="#b2df8a" /><rect x="444.92" y="381.04" width="6.8" height="11.89" fill="#ff7f00" /><rect x="444.92" y="392.78" width="6.8" height="47.36" fill="#fdbf6f" /><rect x="444.92" y="439.99" width="6.8" height="7.82" fill="#6a3d9a" /><rect x="444.92" y="447.66" width="6.8" height="26.27" fill="#cab2d6" /><path d="M304 474.0L468.7 474.0" stroke="#5b5955" stroke-width="1.6" fill="none"/><path d="M305.7 473.8L305.7 479.0" stroke="#5b5955" stroke-width="1.3" fill="none"/><path d="M342.4 473.8L342.4 479.0" stroke="#5b5955" stroke-width="1.3" fill="none"/><path d="M379.3 473.8L379.3 479.0" stroke="#5b5955" stroke-width="1.3" fill="none"/><path d="M416.4 473.8L416.4 479.0" stroke="#5b5955" stroke-width="1.3" fill="none"/><path d="M454.3 473.8L454.3 479.0" stroke="#5b5955" stroke-width="1.3" fill="none"/><text x="290.6" y="351.6" text-anchor="end" class="ax" >100</text><text x="290.6" y="413.6" text-anchor="end" class="ax" >50</text><text x="290.6" y="475.0" text-anchor="end" class="ax" >0</text><text x="0" y="0" text-anchor="end" class="ax" transform="translate(308.3 486.1) rotate(-45)">10:00 AM</text><text x="0" y="0" text-anchor="end" class="ax" transform="translate(345.0 486.1) rotate(-45)">10:15 AM</text><text x="0" y="0" text-anchor="end" class="ax" transform="translate(381.9 486.1) rotate(-45)">10:30 AM</text><text x="0" y="0" text-anchor="end" class="ax" transform="translate(419.0 486.1) rotate(-45)">10:45 AM</text><circle cx="480" cy="344.3" r="5.5" fill="#b2df8a"/><text x="489.5" y="349.1" text-anchor="start" class="lg" >spyware</text><circle cx="480" cy="362.3" r="5.5" fill="#ff7f00"/><text x="489.5" y="367.1" text-anchor="start" class="lg" >wildfire-virus</text><circle cx="480" cy="380.3" r="5.5" fill="#fdbf6f"/><text x="489.5" y="385.1" text-anchor="start" class="lg" >vulnerability</text><circle cx="480" cy="398.3" r="5.5" fill="#6a3d9a"/><text x="489.5" y="403.1" text-anchor="start" class="lg" >virus</text><circle cx="480" cy="416.3" r="5.5" fill="#cab2d6"/><text x="489.5" y="421.1" text-anchor="start" class="lg" >wildfire</text></svg>
<svg class="ch" style="left:572px;top:335px" width="299" height="200" viewBox="572 335 299 200"><path d="M611.6 350L773.7 350" stroke="#5b5955" stroke-width="1" fill="none"/><path d="M611.6 411.9L773.7 411.9" stroke="#5b5955" stroke-width="1" fill="none"/><rect x="616.72" y="405.38" width="6.6" height="12.1" fill="#b2df8a" /><rect x="616.72" y="417.33" width="6.6" height="25.14" fill="#ff7f00" /><rect x="616.72" y="442.31" width="6.6" height="15.9" fill="#fdbf6f" /><rect x="616.72" y="458.07" width="6.6" height="12.64" fill="#6a3d9a" /><rect x="616.72" y="470.56" width="6.6" height="2.87" fill="#cab2d6" /><rect x="629.21" y="385.55" width="6.6" height="18.08" fill="#b2df8a" /><rect x="629.21" y="403.48" width="6.6" height="27.58" fill="#ff7f00" /><rect x="629.21" y="430.91" width="6.6" height="18.89" fill="#fdbf6f" /><rect x="629.21" y="449.65" width="6.6" height="21.06" fill="#6a3d9a" /><rect x="629.21" y="470.56" width="6.6" height="2.87" fill="#cab2d6" /><rect x="641.16" y="378.22" width="6.6" height="24.59" fill="#b2df8a" /><rect x="641.16" y="402.66" width="6.6" height="23.78" fill="#ff7f00" /><rect x="641.16" y="426.29" width="6.6" height="17.26" fill="#fdbf6f" /><rect x="641.16" y="443.4" width="6.6" height="21.61" fill="#6a3d9a" /><rect x="641.16" y="464.86" width="6.6" height="8.57" fill="#cab2d6" /><rect x="653.66" y="386.37" width="6.6" height="19.98" fill="#b2df8a" /><rect x="653.66" y="406.19" width="6.6" height="26.49" fill="#ff7f00" /><rect x="653.66" y="432.54" width="6.6" height="11.01" fill="#fdbf6f" /><rect x="653.66" y="443.4" width="6.6" height="23.51" fill="#6a3d9a" /><rect x="653.66" y="466.76" width="6.6" height="6.67" fill="#cab2d6" /><rect x="665.34" y="394.51" width="6.6" height="11.83" fill="#b2df8a" /><rect x="665.34" y="406.19" width="6.6" height="26.49" fill="#ff7f00" /><rect x="665.34" y="432.54" width="6.6" height="17.26" fill="#fdbf6f" /><rect x="665.34" y="449.65" width="6.6" height="21.06" fill="#6a3d9a" /><rect x="665.34" y="470.56" width="6.6" height="2.87" fill="#cab2d6" /><rect x="677.83" y="381.75" width="6.6" height="16.45" fill="#b2df8a" /><rect x="677.83" y="398.04" width="6.6" height="17.53" fill="#ff7f00" /><rect x="677.83" y="415.43" width="6.6" height="23.78" fill="#fdbf6f" /><rect x="677.83" y="439.05" width="6.6" height="24.32" fill="#6a3d9a" /><rect x="677.83" y="463.23" width="6.6" height="10.2" fill="#cab2d6" /><rect x="689.78" y="372.79" width="6.6" height="15.63" fill="#b2df8a" /><rect x="689.78" y="388.27" width="6.6" height="30.84" fill="#ff7f00" /><rect x="689.78" y="418.96" width="6.6" height="13.73" fill="#fdbf6f" /><rect x="689.78" y="432.54" width="6.6" height="38.17" fill="#6a3d9a" /><rect x="689.78" y="470.56" width="6.6" height="2.87" fill="#cab2d6" /><rect x="702.27" y="396.14" width="6.6" height="12.1" fill="#b2df8a" /><rect x="702.27" y="408.09" width="6.6" height="21.88" fill="#ff7f00" /><rect x="702.27" y="429.82" width="6.6" height="9.38" fill="#fdbf6f" /><rect x="702.27" y="439.05" width="6.6" height="25.14" fill="#6a3d9a" /><rect x="702.27" y="464.04" width="6.6" height="9.38" fill="#cab2d6" /><rect x="714.22" y="398.04" width="6.6" height="15.63" fill="#b2df8a" /><rect x="714.22" y="413.53" width="6.6" height="17.53" fill="#ff7f00" /><rect x="714.22" y="430.91" width="6.6" height="12.64" fill="#fdbf6f" /><rect x="714.22" y="443.4" width="6.6" height="21.61" fill="#6a3d9a" /><rect x="714.22" y="464.86" width="6.6" height="8.57" fill="#cab2d6" /><rect x="726.44" y="375.5" width="6.6" height="22.69" fill="#b2df8a" /><rect x="726.44" y="398.04" width="6.6" height="25.68" fill="#ff7f00" /><rect x="726.44" y="423.57" width="6.6" height="17.26" fill="#fdbf6f" /><rect x="726.44" y="440.68" width="6.6" height="26.22" fill="#6a3d9a" /><rect x="726.44" y="466.76" width="6.6" height="6.67" fill="#cab2d6" /><rect x="738.39" y="386.37" width="6.6" height="15.63" fill="#b2df8a" /><rect x="738.39" y="401.85" width="6.6" height="18.08" fill="#ff7f00" /><rect x="738.39" y="419.77" width="6.6" height="11.29" fill="#fdbf6f" /><rect x="738.39" y="430.91" width="6.6" height="30.57" fill="#6a3d9a" /><rect x="738.39" y="461.33" width="6.6" height="12.1" fill="#cab2d6" /><rect x="750.89" y="361.92" width="6.6" height="29.21" fill="#b2df8a" /><rect x="750.89" y="390.98" width="6.6" height="31.65" fill="#ff7f00" /><rect x="750.89" y="422.49" width="6.6" height="14.82" fill="#fdbf6f" /><rect x="750.89" y="437.15" width="6.6" height="27.04" fill="#6a3d9a" /><rect x="750.89" y="464.04" width="6.6" height="9.38" fill="#cab2d6" /><path d="M611.6 473.5L773.7 473.5" stroke="#5b5955" stroke-width="1.6" fill="none"/><path d="M613.5 473.3L613.5 478.5" stroke="#5b5955" stroke-width="1.3" fill="none"/><path d="M649.9 473.3L649.9 478.5" stroke="#5b5955" stroke-width="1.3" fill="none"/><path d="M686.8 473.3L686.8 478.5" stroke="#5b5955" stroke-width="1.3" fill="none"/><path d="M723 473.3L723 478.5" stroke="#5b5955" stroke-width="1.3" fill="none"/><path d="M759.9 473.3L759.9 478.5" stroke="#5b5955" stroke-width="1.3" fill="none"/><text x="598.5" y="351.2" text-anchor="end" class="ax" >100</text><text x="598.5" y="413.1" text-anchor="end" class="ax" >50</text><text x="598.5" y="474.5" text-anchor="end" class="ax" >0</text><text x="0" y="0" text-anchor="end" class="ax" transform="translate(616.1 485.6) rotate(-45)">10:00 AM</text><text x="0" y="0" text-anchor="end" class="ax" transform="translate(652.5 485.6) rotate(-45)">10:15 AM</text><text x="0" y="0" text-anchor="end" class="ax" transform="translate(689.4 485.6) rotate(-45)">10:30 AM</text><text x="0" y="0" text-anchor="end" class="ax" transform="translate(725.6 485.6) rotate(-45)">10:45 AM</text><circle cx="785.4" cy="344.3" r="5.5" fill="#b2df8a"/><text x="794.4" y="349.1" text-anchor="start" class="lg" >informational</text><circle cx="785.4" cy="362.3" r="5.5" fill="#ff7f00"/><text x="794.4" y="367.1" text-anchor="start" class="lg" >medium</text><circle cx="785.4" cy="380.3" r="5.5" fill="#fdbf6f"/><text x="794.4" y="385.1" text-anchor="start" class="lg" >critical</text><circle cx="785.4" cy="398.3" r="5.5" fill="#6a3d9a"/><text x="794.4" y="403.1" text-anchor="start" class="lg" >low</text><circle cx="785.4" cy="416.3" r="5.5" fill="#cab2d6"/><text x="794.4" y="421.1" text-anchor="start" class="lg" >high</text></svg>
<svg class="ch" style="left:880px;top:335px" width="350" height="200" viewBox="880 335 350 200"><path d="M942.5 350L942.5 501.5" stroke="#5b5955" stroke-width="1" fill="none"/><path d="M990.2 350L990.2 501.5" stroke="#5b5955" stroke-width="1" fill="none"/><path d="M1037.9 350L1037.9 501.5" stroke="#5b5955" stroke-width="1" fill="none"/><path d="M1085.6 350L1085.6 501.5" stroke="#5b5955" stroke-width="1" fill="none"/><path d="M1133.3 350L1133.3 501.5" stroke="#5b5955" stroke-width="1" fill="none"/><rect x="942.5" y="371" width="17.1" height="35.7" fill="#fdbf6f" stroke="#222b3b" stroke-width="0.8"/><rect x="959.6" y="371" width="57.7" height="35.7" fill="#ff7f00" stroke="#222b3b" stroke-width="0.8"/><rect x="1017.3" y="371" width="35.7" height="35.7" fill="#b2df8a" stroke="#222b3b" stroke-width="0.8"/><rect x="1053" y="371" width="39.1" height="35.7" fill="#33a02c" stroke="#222b3b" stroke-width="0.8"/><rect x="1092.1" y="371" width="41.2" height="35.7" fill="#a6cee3" stroke="#222b3b" stroke-width="0.8"/><rect x="942.5" y="446" width="190.8" height="35.7" fill="#33a02c" stroke="#222b3b" stroke-width="0.8"/><path d="M942.5 350L942.5 501.5" stroke="#5b5955" stroke-width="1" fill="none"/><path d="M933.5 388.7L942.5 388.7" stroke="#5b5955" stroke-width="1" fill="none"/><text x="929" y="389.9" text-anchor="end" class="ax" >tcp</text><path d="M933.5 463.7L942.5 463.7" stroke="#5b5955" stroke-width="1" fill="none"/><text x="929" y="464.9" text-anchor="end" class="ax" >udp</text><text x="942.5" y="518" text-anchor="middle" class="ax" >0</text><text x="1037.9" y="518" text-anchor="middle" class="ax" >50</text><text x="1133.3" y="518" text-anchor="middle" class="ax" >100</text><text x="0" y="0" text-anchor="middle" class="axb" transform="translate(902 426) rotate(-90)">protocol</text><circle cx="1144.4" cy="344.4" r="5.5" fill="#a6cee3"/><text x="1153.5" y="349.2" text-anchor="start" class="lg" >informational</text><circle cx="1144.4" cy="362.4" r="5.5" fill="#33a02c"/><text x="1153.5" y="367.2" text-anchor="start" class="lg" >medium</text><circle cx="1144.4" cy="380.4" r="5.5" fill="#b2df8a"/><text x="1153.5" y="385.2" text-anchor="start" class="lg" >critical</text><circle cx="1144.4" cy="398.4" r="5.5" fill="#ff7f00"/><text x="1153.5" y="403.2" text-anchor="start" class="lg" >low</text><circle cx="1144.4" cy="416.4" r="5.5" fill="#fdbf6f"/><text x="1153.5" y="421.2" text-anchor="start" class="lg" >high</text></svg>
<svg class="ch" style="left:418px;top:1215px" width="402" height="195" viewBox="418 1215 402 195"><path d="M592.0 1225L592.0 1358.8" stroke="#5b5955" stroke-width="1" fill="none"/><path d="M646.5 1225L646.5 1358.8" stroke="#5b5955" stroke-width="1" fill="none"/><path d="M701.0 1225L701.0 1358.8" stroke="#5b5955" stroke-width="1" fill="none"/><path d="M755.5 1225L755.5 1358.8" stroke="#5b5955" stroke-width="1" fill="none"/><rect x="537.5" y="1226.5" width="212.55" height="13.15" fill="#1f78b4" stroke="#17202c" stroke-width="0.7"/><rect x="537.5" y="1239.65" width="207.1" height="13.15" fill="#1f78b4" stroke="#17202c" stroke-width="0.7"/><rect x="537.5" y="1252.8" width="207.1" height="13.15" fill="#1f78b4" stroke="#17202c" stroke-width="0.7"/><rect x="537.5" y="1265.95" width="201.65" height="13.15" fill="#1f78b4" stroke="#17202c" stroke-width="0.7"/><rect x="537.5" y="1279.1" width="196.2" height="13.15" fill="#1f78b4" stroke="#17202c" stroke-width="0.7"/><rect x="537.5" y="1292.25" width="196.2" height="13.15" fill="#1f78b4" stroke="#17202c" stroke-width="0.7"/><rect x="537.5" y="1305.4" width="196.2" height="13.15" fill="#1f78b4" stroke="#17202c" stroke-width="0.7"/><rect x="537.5" y="1318.55" width="185.3" height="13.15" fill="#1f78b4" stroke="#17202c" stroke-width="0.7"/><rect x="537.5" y="1331.7" width="185.3" height="13.15" fill="#1f78b4" stroke="#17202c" stroke-width="0.7"/><rect x="537.5" y="1344.85" width="174.4" height="13.15" fill="#1f78b4" stroke="#17202c" stroke-width="0.7"/><path d="M537.5 1225L537.5 1358" stroke="#5b5955" stroke-width="1" fill="none"/><path d="M529.0 1233.58L537.5 1233.58" stroke="#5b5955" stroke-width="1" fill="none"/><text x="524" y="1234.88" text-anchor="end" class="ax" >182.80.119.50</text><path d="M529.0 1259.88L537.5 1259.88" stroke="#5b5955" stroke-width="1" fill="none"/><text x="524" y="1261.17" text-anchor="end" class="ax" >207.235.176.5</text><path d="M529.0 1286.17L537.5 1286.17" stroke="#5b5955" stroke-width="1" fill="none"/><text x="524" y="1287.47" text-anchor="end" class="ax" >193.208.132.60</text><path d="M529.0 1312.47L537.5 1312.47" stroke="#5b5955" stroke-width="1" fill="none"/><text x="524" y="1313.77" text-anchor="end" class="ax" >17.174.122.37</text><path d="M529.0 1338.78L537.5 1338.78" stroke="#5b5955" stroke-width="1" fill="none"/><text x="524" y="1340.08" text-anchor="end" class="ax" >205.168.30.201</text><text x="537.5" y="1375" text-anchor="middle" class="ax" >0</text><text x="646.5" y="1375" text-anchor="middle" class="ax" >20</text><text x="755.5" y="1375" text-anchor="middle" class="ax" >40</text><text x="674.5" y="1393" text-anchor="middle" class="axb" >eventcount</text><text x="0" y="0" text-anchor="middle" class="axb" transform="translate(439.7 1291.5) rotate(-90)">src_ip</text></svg>
<svg class="ch" style="left:829px;top:1215px" width="401" height="195" viewBox="829 1215 401 195"><path d="M1007.75 1225L1007.75 1358.8" stroke="#5b5955" stroke-width="1" fill="none"/><path d="M1061.0 1225L1061.0 1358.8" stroke="#5b5955" stroke-width="1" fill="none"/><path d="M1114.25 1225L1114.25 1358.8" stroke="#5b5955" stroke-width="1" fill="none"/><path d="M1167.5 1225L1167.5 1358.8" stroke="#5b5955" stroke-width="1" fill="none"/><rect x="954.5" y="1226.5" width="223.65" height="13.15" fill="#a6cee3" stroke="#17202c" stroke-width="0.7"/><rect x="954.5" y="1239.65" width="223.65" height="13.15" fill="#a6cee3" stroke="#17202c" stroke-width="0.7"/><rect x="954.5" y="1252.8" width="201.82" height="13.15" fill="#a6cee3" stroke="#17202c" stroke-width="0.7"/><rect x="954.5" y="1265.95" width="196.49" height="13.15" fill="#a6cee3" stroke="#17202c" stroke-width="0.7"/><rect x="954.5" y="1279.1" width="185.31" height="13.15" fill="#a6cee3" stroke="#17202c" stroke-width="0.7"/><rect x="954.5" y="1292.25" width="185.31" height="13.15" fill="#a6cee3" stroke="#17202c" stroke-width="0.7"/><rect x="954.5" y="1305.4" width="180.52" height="13.15" fill="#a6cee3" stroke="#17202c" stroke-width="0.7"/><rect x="954.5" y="1318.55" width="180.52" height="13.15" fill="#a6cee3" stroke="#17202c" stroke-width="0.7"/><rect x="954.5" y="1331.7" width="180.52" height="13.15" fill="#a6cee3" stroke="#17202c" stroke-width="0.7"/><rect x="954.5" y="1344.85" width="174.66" height="13.15" fill="#a6cee3" stroke="#17202c" stroke-width="0.7"/><path d="M954.5 1225L954.5 1358" stroke="#5b5955" stroke-width="1" fill="none"/><path d="M946.0 1233.58L954.5 1233.58" stroke="#5b5955" stroke-width="1" fill="none"/><text x="941" y="1234.88" text-anchor="end" class="ax" >142.74.76.166</text><path d="M946.0 1259.88L954.5 1259.88" stroke="#5b5955" stroke-width="1" fill="none"/><text x="941" y="1261.17" text-anchor="end" class="ax" >120.30.1.111</text><path d="M946.0 1286.17L954.5 1286.17" stroke="#5b5955" stroke-width="1" fill="none"/><text x="941" y="1287.47" text-anchor="end" class="ax" >120.230.1.33</text><path d="M946.0 1312.47L954.5 1312.47" stroke="#5b5955" stroke-width="1" fill="none"/><text x="941" y="1313.77" text-anchor="end" class="ax" >182.151.231.210</text><path d="M946.0 1338.78L954.5 1338.78" stroke="#5b5955" stroke-width="1" fill="none"/><text x="941" y="1340.08" text-anchor="end" class="ax" >86.227.132.62</text><text x="954.5" y="1375" text-anchor="middle" class="ax" >0</text><text x="1061.0" y="1375" text-anchor="middle" class="ax" >20</text><text x="1167.5" y="1375" text-anchor="middle" class="ax" >40</text><text x="1087.5" y="1393" text-anchor="middle" class="axb" >eventcount</text><text x="0" y="0" text-anchor="middle" class="axb" transform="translate(849.7 1291.5) rotate(-90)">dest_ip</text></svg>
<svg class="ch" style="left:418px;top:1455px" width="402" height="200" viewBox="418 1455 402 200"><path d="M575.62 1468.5L575.62 1618.5" stroke="#5b5955" stroke-width="1" fill="none"/><path d="M623.75 1468.5L623.75 1618.5" stroke="#5b5955" stroke-width="1" fill="none"/><path d="M671.88 1468.5L671.88 1618.5" stroke="#5b5955" stroke-width="1" fill="none"/><path d="M720.0 1468.5L720.0 1618.5" stroke="#5b5955" stroke-width="1" fill="none"/><rect x="527.5" y="1478" width="95.48" height="14.2" fill="#fdbf6f" stroke="#222b3b" stroke-width="0.6"/><rect x="622.98" y="1478" width="97.02" height="14.2" fill="#ff7f00" stroke="#222b3b" stroke-width="0.6"/><path d="M519 1484.9L527.5 1484.9" stroke="#5b5955" stroke-width="1" fill="none"/><text x="514" y="1486.2" text-anchor="end" class="ax" >critical</text><rect x="527.5" y="1507.5" width="192.5" height="14.2" fill="#fdbf6f" stroke="#222b3b" stroke-width="0.6"/><path d="M519 1514.3L527.5 1514.3" stroke="#5b5955" stroke-width="1" fill="none"/><text x="514" y="1515.6" text-anchor="end" class="ax" >high</text><rect x="527.5" y="1536.5" width="192.5" height="14.2" fill="#b2df8a" stroke="#222b3b" stroke-width="0.6"/><path d="M519 1543.7L527.5 1543.7" stroke="#5b5955" stroke-width="1" fill="none"/><text x="514" y="1545.0" text-anchor="end" class="ax" >informational</text><rect x="527.5" y="1566" width="120.51" height="14.2" fill="#b2df8a" stroke="#222b3b" stroke-width="0.6"/><rect x="648.0" y="1566" width="72.0" height="14.2" fill="#33a02c" stroke="#222b3b" stroke-width="0.6"/><path d="M519 1573.1L527.5 1573.1" stroke="#5b5955" stroke-width="1" fill="none"/><text x="514" y="1574.4" text-anchor="end" class="ax" >low</text><rect x="527.5" y="1595.7" width="62.56" height="14.2" fill="#6a3d9a" stroke="#222b3b" stroke-width="0.6"/><rect x="590.06" y="1595.7" width="72.38" height="14.2" fill="#b2df8a" stroke="#222b3b" stroke-width="0.6"/><rect x="662.44" y="1595.7" width="57.56" height="14.2" fill="#a6cee3" stroke="#222b3b" stroke-width="0.6"/><path d="M519 1602.5L527.5 1602.5" stroke="#5b5955" stroke-width="1" fill="none"/><text x="514" y="1603.8" text-anchor="end" class="ax" >medium</text><path d="M527.5 1468.5L527.5 1618.5" stroke="#5b5955" stroke-width="1" fill="none"/><text x="527.5" y="1635" text-anchor="middle" class="ax" >0</text><text x="623.75" y="1635" text-anchor="middle" class="ax" >50</text><text x="720.0" y="1635" text-anchor="middle" class="ax" >100</text><text x="0" y="0" text-anchor="middle" class="axb" transform="translate(439.7 1543) rotate(-90)">severity</text><circle cx="731.5" cy="1462.5" r="5.5" fill="#a6cee3"/><text x="740.5" y="1466.9" text-anchor="start" class="lg" >dns</text><circle cx="731.5" cy="1480.5" r="5.5" fill="#33a02c"/><text x="740.5" y="1484.9" text-anchor="start" class="lg" >sip</text><circle cx="731.5" cy="1498.5" r="5.5" fill="#b2df8a"/><text x="740.5" y="1502.9" text-anchor="start" class="lg" >web-browsing</text><circle cx="731.5" cy="1516.5" r="5.5" fill="#ff7f00"/><text x="740.5" y="1520.9" text-anchor="start" class="lg" >http-proxy</text><circle cx="731.5" cy="1534.5" r="5.5" fill="#fdbf6f"/><text x="740.5" y="1538.9" text-anchor="start" class="lg" >ms-ds-smbv1</text><circle cx="731.5" cy="1551.5" r="5.5" fill="#6a3d9a"/><text x="740.5" y="1555.9" text-anchor="start" class="lg" >flash</text></svg>
<svg class="ch" style="left:829px;top:1455px" width="401" height="200" viewBox="829 1455 401 200"><path d="M984.40 1488.80A56.6 56.6 0 0 1 1029.36 1579.78L1006.88 1562.59A28.3 28.3 0 0 0 984.40 1517.10Z" fill="#1f78b4" stroke="#222b3b" stroke-width="0.7"/><path d="M1029.36 1579.78A56.6 56.6 0 0 1 970.71 1600.32L977.55 1572.86A28.3 28.3 0 0 0 1006.88 1562.59Z" fill="#a6cee3" stroke="#222b3b" stroke-width="0.7"/><path d="M970.71 1600.32A56.6 56.6 0 0 1 929.00 1556.97L956.70 1551.19A28.3 28.3 0 0 0 977.55 1572.86Z" fill="#33a02c" stroke="#222b3b" stroke-width="0.7"/><path d="M929.00 1556.97A56.6 56.6 0 0 1 933.79 1520.06L959.10 1532.73A28.3 28.3 0 0 0 956.70 1551.19Z" fill="#b2df8a" stroke="#222b3b" stroke-width="0.7"/><path d="M933.79 1520.06A56.6 56.6 0 0 1 954.91 1497.09L969.66 1521.24A28.3 28.3 0 0 0 959.10 1532.73Z" fill="#ff7f00" stroke="#222b3b" stroke-width="0.7"/><path d="M954.91 1497.09A56.6 56.6 0 0 1 984.40 1488.80L984.40 1517.10A28.3 28.3 0 0 0 969.66 1521.24Z" fill="#fdbf6f" stroke="#222b3b" stroke-width="0.7"/><circle cx="1135" cy="1501.6" r="5.3" fill="#1f78b4"/><text x="1144.5" y="1505.5" text-anchor="start" class="lgw" >any</text><circle cx="1135" cy="1522.7" r="5.3" fill="#a6cee3"/><text x="1144.5" y="1526.6" text-anchor="start" class="lgw" >URL_Alerting</text><circle cx="1135" cy="1543.3" r="5.3" fill="#33a02c"/><text x="1144.5" y="1547.2" text-anchor="start" class="lgw" >grayware</text><circle cx="1135" cy="1564.1" r="5.3" fill="#b2df8a"/><text x="1144.5" y="1568.0" text-anchor="start" class="lgw" >news</text><circle cx="1135" cy="1584.9" r="5.3" fill="#ff7f00"/><text x="1144.5" y="1588.8" text-anchor="start" class="lgw" >benign</text><circle cx="1135" cy="1605" r="5.3" fill="#fdbf6f"/><text x="1144.5" y="1608.9" text-anchor="start" class="lgw" >not-resolved</text></svg>
</body></html>
